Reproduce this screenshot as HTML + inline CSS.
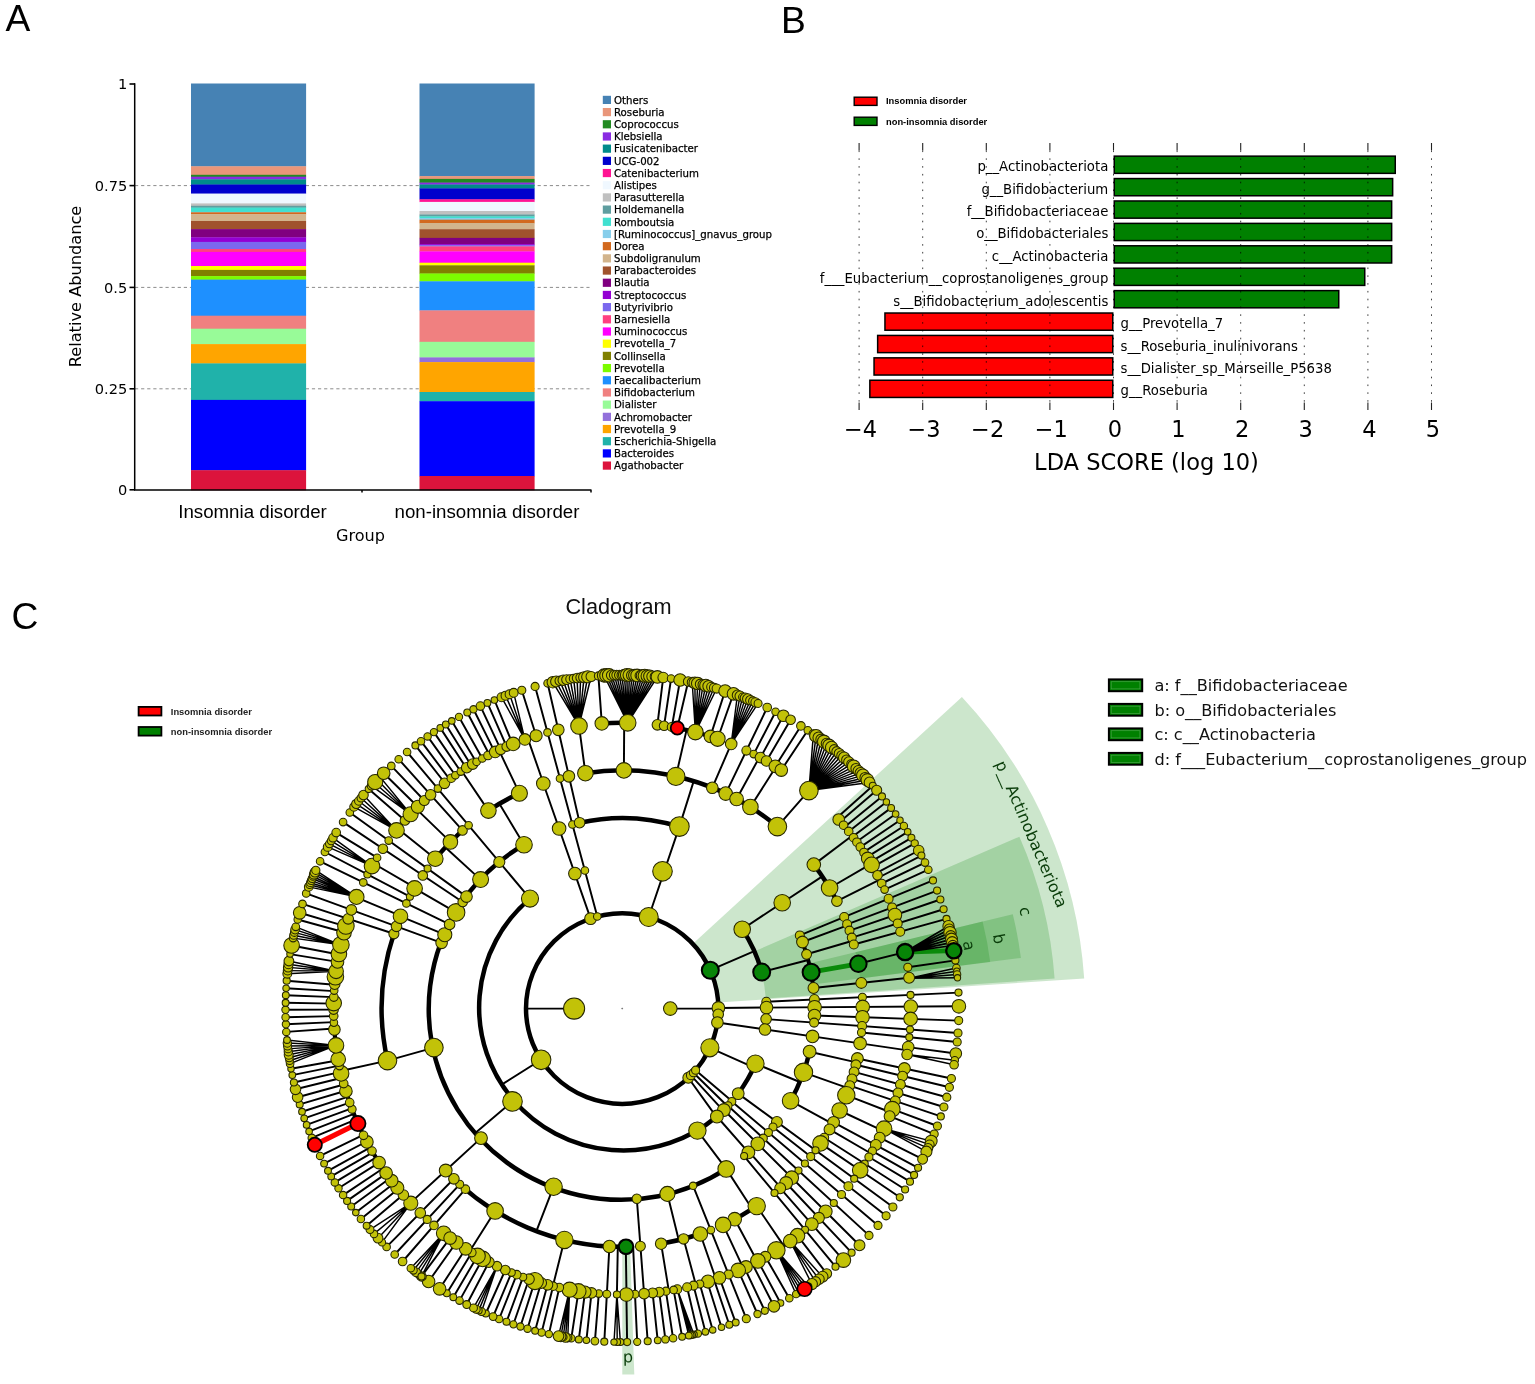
<!DOCTYPE html>
<html lang="en"><head><meta charset="utf-8"><title>Figure</title>
<style>html,body{margin:0;padding:0;background:#fff;overflow:hidden}svg{display:block}text{white-space:pre}</style></head><body>
<svg width="1535" height="1384" viewBox="0 0 1535 1384">
<rect width="1535" height="1384" fill="#fff"/>
<g id="panelA"><line x1="135" y1="185.6" x2="589.5" y2="185.6" stroke="#8c8c8c" stroke-width="1" stroke-dasharray="3.2 2.9"/>
<line x1="135" y1="287.4" x2="589.5" y2="287.4" stroke="#8c8c8c" stroke-width="1" stroke-dasharray="3.2 2.9"/>
<line x1="135" y1="388.8" x2="589.5" y2="388.8" stroke="#8c8c8c" stroke-width="1" stroke-dasharray="3.2 2.9"/>
<rect x="191.0" y="83.50" width="115.10" height="83.10" fill="#4682B4"/>
<rect x="191.0" y="166.30" width="115.10" height="8.80" fill="#E9967A"/>
<rect x="191.0" y="174.80" width="115.10" height="2.20" fill="#228B22"/>
<rect x="191.0" y="176.70" width="115.10" height="2.90" fill="#8A2BE2"/>
<rect x="191.0" y="179.30" width="115.10" height="5.50" fill="#008B8B"/>
<rect x="191.0" y="184.50" width="115.10" height="9.40" fill="#0000CD"/>
<rect x="191.0" y="193.60" width="115.10" height="10.10" fill="#F0F8FF"/>
<rect x="191.0" y="203.40" width="115.10" height="2.70" fill="#C0C0C0"/>
<rect x="191.0" y="205.80" width="115.10" height="2.10" fill="#5F9EA0"/>
<rect x="191.0" y="207.60" width="115.10" height="4.60" fill="#40E0D0"/>
<rect x="191.0" y="211.90" width="115.10" height="0.70" fill="#87CEEB"/>
<rect x="191.0" y="212.30" width="115.10" height="2.10" fill="#D2691E"/>
<rect x="191.0" y="214.10" width="115.10" height="7.20" fill="#D2B48C"/>
<rect x="191.0" y="221.00" width="115.10" height="8.40" fill="#A0522D"/>
<rect x="191.0" y="229.10" width="115.10" height="8.50" fill="#800080"/>
<rect x="191.0" y="237.30" width="115.10" height="4.90" fill="#9400D3"/>
<rect x="191.0" y="241.90" width="115.10" height="7.40" fill="#7B68EE"/>
<rect x="191.0" y="249.00" width="115.10" height="3.20" fill="#FF4081"/>
<rect x="191.0" y="251.90" width="115.10" height="14.40" fill="#FF00FF"/>
<rect x="191.0" y="266.00" width="115.10" height="4.20" fill="#FFFF00"/>
<rect x="191.0" y="269.90" width="115.10" height="6.50" fill="#808000"/>
<rect x="191.0" y="276.10" width="115.10" height="3.80" fill="#7CFC00"/>
<rect x="191.0" y="279.60" width="115.10" height="36.40" fill="#1E90FF"/>
<rect x="191.0" y="315.70" width="115.10" height="13.30" fill="#F08080"/>
<rect x="191.0" y="328.70" width="115.10" height="15.70" fill="#98FB98"/>
<rect x="191.0" y="344.10" width="115.10" height="19.60" fill="#FFA500"/>
<rect x="191.0" y="363.40" width="115.10" height="36.80" fill="#20B2AA"/>
<rect x="191.0" y="399.90" width="115.10" height="70.60" fill="#0000FF"/>
<rect x="191.0" y="470.20" width="115.10" height="20.10" fill="#DC143C"/>
<rect x="419.5" y="83.50" width="115.10" height="92.90" fill="#4682B4"/>
<rect x="419.5" y="176.10" width="115.10" height="3.10" fill="#E9967A"/>
<rect x="419.5" y="178.90" width="115.10" height="4.00" fill="#228B22"/>
<rect x="419.5" y="182.60" width="115.10" height="2.20" fill="#8A2BE2"/>
<rect x="419.5" y="184.50" width="115.10" height="4.20" fill="#008B8B"/>
<rect x="419.5" y="188.40" width="115.10" height="11.20" fill="#0000CD"/>
<rect x="419.5" y="199.30" width="115.10" height="2.90" fill="#FF1493"/>
<rect x="419.5" y="201.90" width="115.10" height="9.40" fill="#F0F8FF"/>
<rect x="419.5" y="211.00" width="115.10" height="3.80" fill="#C0C0C0"/>
<rect x="419.5" y="214.50" width="115.10" height="2.20" fill="#5F9EA0"/>
<rect x="419.5" y="216.40" width="115.10" height="1.90" fill="#40E0D0"/>
<rect x="419.5" y="218.00" width="115.10" height="2.00" fill="#87CEEB"/>
<rect x="419.5" y="219.70" width="115.10" height="3.60" fill="#D2691E"/>
<rect x="419.5" y="223.00" width="115.10" height="6.50" fill="#D2B48C"/>
<rect x="419.5" y="229.20" width="115.10" height="9.00" fill="#A0522D"/>
<rect x="419.5" y="237.90" width="115.10" height="6.50" fill="#800080"/>
<rect x="419.5" y="244.10" width="115.10" height="1.40" fill="#9400D3"/>
<rect x="419.5" y="245.20" width="115.10" height="1.50" fill="#7B68EE"/>
<rect x="419.5" y="246.40" width="115.10" height="5.30" fill="#FF4081"/>
<rect x="419.5" y="251.40" width="115.10" height="11.60" fill="#FF00FF"/>
<rect x="419.5" y="262.70" width="115.10" height="2.90" fill="#FFFF00"/>
<rect x="419.5" y="265.30" width="115.10" height="8.50" fill="#808000"/>
<rect x="419.5" y="273.50" width="115.10" height="8.10" fill="#7CFC00"/>
<rect x="419.5" y="281.30" width="115.10" height="29.40" fill="#1E90FF"/>
<rect x="419.5" y="310.40" width="115.10" height="31.70" fill="#F08080"/>
<rect x="419.5" y="341.80" width="115.10" height="15.90" fill="#98FB98"/>
<rect x="419.5" y="357.40" width="115.10" height="5.00" fill="#9370DB"/>
<rect x="419.5" y="362.10" width="115.10" height="30.20" fill="#FFA500"/>
<rect x="419.5" y="392.00" width="115.10" height="9.50" fill="#20B2AA"/>
<rect x="419.5" y="401.20" width="115.10" height="75.10" fill="#0000FF"/>
<rect x="419.5" y="476.00" width="115.10" height="14.30" fill="#DC143C"/>
<path d="M134.7 83.3V490.6M134 490H591.5M362 490v2.5M591 490v2.5" stroke="#000" stroke-width="1.5" fill="none"/>
<line x1="129.5" y1="84" x2="135" y2="84" stroke="#000" stroke-width="1.6"/>
<text x="127.3" y="89.3" text-anchor="end" font-family="'DejaVu Sans','Liberation Sans',sans-serif" font-size="14.6">1</text>
<line x1="129.5" y1="185.6" x2="135" y2="185.6" stroke="#000" stroke-width="1.6"/>
<text x="127.3" y="190.9" text-anchor="end" font-family="'DejaVu Sans','Liberation Sans',sans-serif" font-size="14.6">0.75</text>
<line x1="129.5" y1="287.4" x2="135" y2="287.4" stroke="#000" stroke-width="1.6"/>
<text x="127.3" y="292.7" text-anchor="end" font-family="'DejaVu Sans','Liberation Sans',sans-serif" font-size="14.6">0.5</text>
<line x1="129.5" y1="388.8" x2="135" y2="388.8" stroke="#000" stroke-width="1.6"/>
<text x="127.3" y="394.1" text-anchor="end" font-family="'DejaVu Sans','Liberation Sans',sans-serif" font-size="14.6">0.25</text>
<line x1="129.5" y1="489.8" x2="135" y2="489.8" stroke="#000" stroke-width="1.6"/>
<text x="127.3" y="495.1" text-anchor="end" font-family="'DejaVu Sans','Liberation Sans',sans-serif" font-size="14.6">0</text>
<text transform="translate(80.5 286.5) rotate(-90)" text-anchor="middle" font-family="'DejaVu Sans','Liberation Sans',sans-serif" font-size="16.2">Relative Abundance</text>
<text x="252.5" y="517.5" text-anchor="middle" font-family="'Liberation Sans','DejaVu Sans',sans-serif" font-size="18.7">Insomnia disorder</text>
<text x="487" y="517.5" text-anchor="middle" font-family="'Liberation Sans','DejaVu Sans',sans-serif" font-size="18.7">non-insomnia disorder</text>
<text x="360.5" y="540.5" text-anchor="middle" font-family="'DejaVu Sans','Liberation Sans',sans-serif" font-size="16.1">Group</text>
<rect x="602.8" y="95.80" width="8.2" height="8.2" fill="#4682B4"/>
<text x="614" y="103.60" font-family="'DejaVu Sans','Liberation Sans',sans-serif" font-size="10.2" stroke="#000" stroke-width="0.25">Others</text>
<rect x="602.8" y="107.99" width="8.2" height="8.2" fill="#E9967A"/>
<text x="614" y="115.79" font-family="'DejaVu Sans','Liberation Sans',sans-serif" font-size="10.2" stroke="#000" stroke-width="0.25">Roseburia</text>
<rect x="602.8" y="120.18" width="8.2" height="8.2" fill="#228B22"/>
<text x="614" y="127.98" font-family="'DejaVu Sans','Liberation Sans',sans-serif" font-size="10.2" stroke="#000" stroke-width="0.25">Coprococcus</text>
<rect x="602.8" y="132.37" width="8.2" height="8.2" fill="#8A2BE2"/>
<text x="614" y="140.17" font-family="'DejaVu Sans','Liberation Sans',sans-serif" font-size="10.2" stroke="#000" stroke-width="0.25">Klebsiella</text>
<rect x="602.8" y="144.56" width="8.2" height="8.2" fill="#008B8B"/>
<text x="614" y="152.36" font-family="'DejaVu Sans','Liberation Sans',sans-serif" font-size="10.2" stroke="#000" stroke-width="0.25">Fusicatenibacter</text>
<rect x="602.8" y="156.75" width="8.2" height="8.2" fill="#0000CD"/>
<text x="614" y="164.55" font-family="'DejaVu Sans','Liberation Sans',sans-serif" font-size="10.2" stroke="#000" stroke-width="0.25">UCG-002</text>
<rect x="602.8" y="168.94" width="8.2" height="8.2" fill="#FF1493"/>
<text x="614" y="176.74" font-family="'DejaVu Sans','Liberation Sans',sans-serif" font-size="10.2" stroke="#000" stroke-width="0.25">Catenibacterium</text>
<rect x="602.8" y="181.13" width="8.2" height="8.2" fill="#F0F8FF"/>
<text x="614" y="188.93" font-family="'DejaVu Sans','Liberation Sans',sans-serif" font-size="10.2" stroke="#000" stroke-width="0.25">Alistipes</text>
<rect x="602.8" y="193.32" width="8.2" height="8.2" fill="#C0C0C0"/>
<text x="614" y="201.12" font-family="'DejaVu Sans','Liberation Sans',sans-serif" font-size="10.2" stroke="#000" stroke-width="0.25">Parasutterella</text>
<rect x="602.8" y="205.51" width="8.2" height="8.2" fill="#5F9EA0"/>
<text x="614" y="213.31" font-family="'DejaVu Sans','Liberation Sans',sans-serif" font-size="10.2" stroke="#000" stroke-width="0.25">Holdemanella</text>
<rect x="602.8" y="217.70" width="8.2" height="8.2" fill="#40E0D0"/>
<text x="614" y="225.50" font-family="'DejaVu Sans','Liberation Sans',sans-serif" font-size="10.2" stroke="#000" stroke-width="0.25">Romboutsia</text>
<rect x="602.8" y="229.89" width="8.2" height="8.2" fill="#87CEEB"/>
<text x="614" y="237.69" font-family="'DejaVu Sans','Liberation Sans',sans-serif" font-size="10.2" stroke="#000" stroke-width="0.25">[Ruminococcus]_gnavus_group</text>
<rect x="602.8" y="242.08" width="8.2" height="8.2" fill="#D2691E"/>
<text x="614" y="249.88" font-family="'DejaVu Sans','Liberation Sans',sans-serif" font-size="10.2" stroke="#000" stroke-width="0.25">Dorea</text>
<rect x="602.8" y="254.27" width="8.2" height="8.2" fill="#D2B48C"/>
<text x="614" y="262.07" font-family="'DejaVu Sans','Liberation Sans',sans-serif" font-size="10.2" stroke="#000" stroke-width="0.25">Subdoligranulum</text>
<rect x="602.8" y="266.46" width="8.2" height="8.2" fill="#A0522D"/>
<text x="614" y="274.26" font-family="'DejaVu Sans','Liberation Sans',sans-serif" font-size="10.2" stroke="#000" stroke-width="0.25">Parabacteroides</text>
<rect x="602.8" y="278.65" width="8.2" height="8.2" fill="#800080"/>
<text x="614" y="286.45" font-family="'DejaVu Sans','Liberation Sans',sans-serif" font-size="10.2" stroke="#000" stroke-width="0.25">Blautia</text>
<rect x="602.8" y="290.84" width="8.2" height="8.2" fill="#9400D3"/>
<text x="614" y="298.64" font-family="'DejaVu Sans','Liberation Sans',sans-serif" font-size="10.2" stroke="#000" stroke-width="0.25">Streptococcus</text>
<rect x="602.8" y="303.03" width="8.2" height="8.2" fill="#7B68EE"/>
<text x="614" y="310.83" font-family="'DejaVu Sans','Liberation Sans',sans-serif" font-size="10.2" stroke="#000" stroke-width="0.25">Butyrivibrio</text>
<rect x="602.8" y="315.22" width="8.2" height="8.2" fill="#FF4081"/>
<text x="614" y="323.02" font-family="'DejaVu Sans','Liberation Sans',sans-serif" font-size="10.2" stroke="#000" stroke-width="0.25">Barnesiella</text>
<rect x="602.8" y="327.41" width="8.2" height="8.2" fill="#FF00FF"/>
<text x="614" y="335.21" font-family="'DejaVu Sans','Liberation Sans',sans-serif" font-size="10.2" stroke="#000" stroke-width="0.25">Ruminococcus</text>
<rect x="602.8" y="339.60" width="8.2" height="8.2" fill="#FFFF00"/>
<text x="614" y="347.40" font-family="'DejaVu Sans','Liberation Sans',sans-serif" font-size="10.2" stroke="#000" stroke-width="0.25">Prevotella_7</text>
<rect x="602.8" y="351.79" width="8.2" height="8.2" fill="#808000"/>
<text x="614" y="359.59" font-family="'DejaVu Sans','Liberation Sans',sans-serif" font-size="10.2" stroke="#000" stroke-width="0.25">Collinsella</text>
<rect x="602.8" y="363.98" width="8.2" height="8.2" fill="#7CFC00"/>
<text x="614" y="371.78" font-family="'DejaVu Sans','Liberation Sans',sans-serif" font-size="10.2" stroke="#000" stroke-width="0.25">Prevotella</text>
<rect x="602.8" y="376.17" width="8.2" height="8.2" fill="#1E90FF"/>
<text x="614" y="383.97" font-family="'DejaVu Sans','Liberation Sans',sans-serif" font-size="10.2" stroke="#000" stroke-width="0.25">Faecalibacterium</text>
<rect x="602.8" y="388.36" width="8.2" height="8.2" fill="#F08080"/>
<text x="614" y="396.16" font-family="'DejaVu Sans','Liberation Sans',sans-serif" font-size="10.2" stroke="#000" stroke-width="0.25">Bifidobacterium</text>
<rect x="602.8" y="400.55" width="8.2" height="8.2" fill="#98FB98"/>
<text x="614" y="408.35" font-family="'DejaVu Sans','Liberation Sans',sans-serif" font-size="10.2" stroke="#000" stroke-width="0.25">Dialister</text>
<rect x="602.8" y="412.74" width="8.2" height="8.2" fill="#9370DB"/>
<text x="614" y="420.54" font-family="'DejaVu Sans','Liberation Sans',sans-serif" font-size="10.2" stroke="#000" stroke-width="0.25">Achromobacter</text>
<rect x="602.8" y="424.93" width="8.2" height="8.2" fill="#FFA500"/>
<text x="614" y="432.73" font-family="'DejaVu Sans','Liberation Sans',sans-serif" font-size="10.2" stroke="#000" stroke-width="0.25">Prevotella_9</text>
<rect x="602.8" y="437.12" width="8.2" height="8.2" fill="#20B2AA"/>
<text x="614" y="444.92" font-family="'DejaVu Sans','Liberation Sans',sans-serif" font-size="10.2" stroke="#000" stroke-width="0.25">Escherichia-Shigella</text>
<rect x="602.8" y="449.31" width="8.2" height="8.2" fill="#0000FF"/>
<text x="614" y="457.11" font-family="'DejaVu Sans','Liberation Sans',sans-serif" font-size="10.2" stroke="#000" stroke-width="0.25">Bacteroides</text>
<rect x="602.8" y="461.50" width="8.2" height="8.2" fill="#DC143C"/>
<text x="614" y="469.30" font-family="'DejaVu Sans','Liberation Sans',sans-serif" font-size="10.2" stroke="#000" stroke-width="0.25">Agathobacter</text></g>
<g id="panelB"><rect x="1114.25" y="156.15" width="281.00" height="17.20" fill="#008000" stroke="#000" stroke-width="1.5"/>
<rect x="1114.25" y="178.56" width="278.40" height="17.20" fill="#008000" stroke="#000" stroke-width="1.5"/>
<rect x="1114.25" y="200.97" width="277.40" height="17.20" fill="#008000" stroke="#000" stroke-width="1.5"/>
<rect x="1114.25" y="223.38" width="277.40" height="17.20" fill="#008000" stroke="#000" stroke-width="1.5"/>
<rect x="1114.25" y="245.79" width="277.40" height="17.20" fill="#008000" stroke="#000" stroke-width="1.5"/>
<rect x="1114.25" y="268.20" width="250.50" height="17.20" fill="#008000" stroke="#000" stroke-width="1.5"/>
<rect x="1114.25" y="290.61" width="224.50" height="17.20" fill="#008000" stroke="#000" stroke-width="1.5"/>
<rect x="884.95" y="313.02" width="227.80" height="17.20" fill="#FF0000" stroke="#000" stroke-width="1.5"/>
<rect x="877.65" y="335.43" width="235.10" height="17.20" fill="#FF0000" stroke="#000" stroke-width="1.5"/>
<rect x="874.05" y="357.84" width="238.70" height="17.20" fill="#FF0000" stroke="#000" stroke-width="1.5"/>
<rect x="869.85" y="380.25" width="242.90" height="17.20" fill="#FF0000" stroke="#000" stroke-width="1.5"/>
<line x1="859.10" y1="150.5" x2="859.10" y2="402" stroke="#000" stroke-opacity="0.75" stroke-width="1" stroke-dasharray="1.6 6.2"/>
<line x1="859.10" y1="143" x2="859.10" y2="150.5" stroke="#222" stroke-width="1.1"/>
<line x1="859.10" y1="402.5" x2="859.10" y2="410" stroke="#222" stroke-width="1.1"/>
<text x="860.50" y="437.2" text-anchor="middle" font-family="'DejaVu Sans','Liberation Sans',sans-serif" font-size="22.5">−4</text>
<line x1="922.70" y1="150.5" x2="922.70" y2="402" stroke="#000" stroke-opacity="0.75" stroke-width="1" stroke-dasharray="1.6 6.2"/>
<line x1="922.70" y1="143" x2="922.70" y2="150.5" stroke="#222" stroke-width="1.1"/>
<line x1="922.70" y1="402.5" x2="922.70" y2="410" stroke="#222" stroke-width="1.1"/>
<text x="924.10" y="437.2" text-anchor="middle" font-family="'DejaVu Sans','Liberation Sans',sans-serif" font-size="22.5">−3</text>
<line x1="986.30" y1="150.5" x2="986.30" y2="402" stroke="#000" stroke-opacity="0.75" stroke-width="1" stroke-dasharray="1.6 6.2"/>
<line x1="986.30" y1="143" x2="986.30" y2="150.5" stroke="#222" stroke-width="1.1"/>
<line x1="986.30" y1="402.5" x2="986.30" y2="410" stroke="#222" stroke-width="1.1"/>
<text x="987.70" y="437.2" text-anchor="middle" font-family="'DejaVu Sans','Liberation Sans',sans-serif" font-size="22.5">−2</text>
<line x1="1049.90" y1="150.5" x2="1049.90" y2="402" stroke="#000" stroke-opacity="0.75" stroke-width="1" stroke-dasharray="1.6 6.2"/>
<line x1="1049.90" y1="143" x2="1049.90" y2="150.5" stroke="#222" stroke-width="1.1"/>
<line x1="1049.90" y1="402.5" x2="1049.90" y2="410" stroke="#222" stroke-width="1.1"/>
<text x="1051.30" y="437.2" text-anchor="middle" font-family="'DejaVu Sans','Liberation Sans',sans-serif" font-size="22.5">−1</text>
<line x1="1113.50" y1="150.5" x2="1113.50" y2="402" stroke="#000" stroke-opacity="0.75" stroke-width="1" stroke-dasharray="1.6 6.2"/>
<line x1="1113.50" y1="143" x2="1113.50" y2="150.5" stroke="#222" stroke-width="1.1"/>
<line x1="1113.50" y1="402.5" x2="1113.50" y2="410" stroke="#222" stroke-width="1.1"/>
<text x="1114.90" y="437.2" text-anchor="middle" font-family="'DejaVu Sans','Liberation Sans',sans-serif" font-size="22.5">0</text>
<line x1="1177.10" y1="150.5" x2="1177.10" y2="402" stroke="#000" stroke-opacity="0.75" stroke-width="1" stroke-dasharray="1.6 6.2"/>
<line x1="1177.10" y1="143" x2="1177.10" y2="150.5" stroke="#222" stroke-width="1.1"/>
<line x1="1177.10" y1="402.5" x2="1177.10" y2="410" stroke="#222" stroke-width="1.1"/>
<text x="1178.50" y="437.2" text-anchor="middle" font-family="'DejaVu Sans','Liberation Sans',sans-serif" font-size="22.5">1</text>
<line x1="1240.70" y1="150.5" x2="1240.70" y2="402" stroke="#000" stroke-opacity="0.75" stroke-width="1" stroke-dasharray="1.6 6.2"/>
<line x1="1240.70" y1="143" x2="1240.70" y2="150.5" stroke="#222" stroke-width="1.1"/>
<line x1="1240.70" y1="402.5" x2="1240.70" y2="410" stroke="#222" stroke-width="1.1"/>
<text x="1242.10" y="437.2" text-anchor="middle" font-family="'DejaVu Sans','Liberation Sans',sans-serif" font-size="22.5">2</text>
<line x1="1304.30" y1="150.5" x2="1304.30" y2="402" stroke="#000" stroke-opacity="0.75" stroke-width="1" stroke-dasharray="1.6 6.2"/>
<line x1="1304.30" y1="143" x2="1304.30" y2="150.5" stroke="#222" stroke-width="1.1"/>
<line x1="1304.30" y1="402.5" x2="1304.30" y2="410" stroke="#222" stroke-width="1.1"/>
<text x="1305.70" y="437.2" text-anchor="middle" font-family="'DejaVu Sans','Liberation Sans',sans-serif" font-size="22.5">3</text>
<line x1="1367.90" y1="150.5" x2="1367.90" y2="402" stroke="#000" stroke-opacity="0.75" stroke-width="1" stroke-dasharray="1.6 6.2"/>
<line x1="1367.90" y1="143" x2="1367.90" y2="150.5" stroke="#222" stroke-width="1.1"/>
<line x1="1367.90" y1="402.5" x2="1367.90" y2="410" stroke="#222" stroke-width="1.1"/>
<text x="1369.30" y="437.2" text-anchor="middle" font-family="'DejaVu Sans','Liberation Sans',sans-serif" font-size="22.5">4</text>
<line x1="1431.50" y1="150.5" x2="1431.50" y2="402" stroke="#000" stroke-opacity="0.75" stroke-width="1" stroke-dasharray="1.6 6.2"/>
<line x1="1431.50" y1="143" x2="1431.50" y2="150.5" stroke="#222" stroke-width="1.1"/>
<line x1="1431.50" y1="402.5" x2="1431.50" y2="410" stroke="#222" stroke-width="1.1"/>
<text x="1432.90" y="437.2" text-anchor="middle" font-family="'DejaVu Sans','Liberation Sans',sans-serif" font-size="22.5">5</text>
<text x="1108.3" y="171.25" text-anchor="end" font-family="'DejaVu Sans','Liberation Sans',sans-serif" font-size="13.25">p__Actinobacteriota</text>
<text x="1108.3" y="193.66" text-anchor="end" font-family="'DejaVu Sans','Liberation Sans',sans-serif" font-size="13.25">g__Bifidobacterium</text>
<text x="1108.3" y="216.07" text-anchor="end" font-family="'DejaVu Sans','Liberation Sans',sans-serif" font-size="13.25">f__Bifidobacteriaceae</text>
<text x="1108.3" y="238.48" text-anchor="end" font-family="'DejaVu Sans','Liberation Sans',sans-serif" font-size="13.25">o__Bifidobacteriales</text>
<text x="1108.3" y="260.89" text-anchor="end" font-family="'DejaVu Sans','Liberation Sans',sans-serif" font-size="13.25">c__Actinobacteria</text>
<text x="1108.3" y="283.30" text-anchor="end" font-family="'DejaVu Sans','Liberation Sans',sans-serif" font-size="13.25">f___Eubacterium__coprostanoligenes_group</text>
<text x="1108.3" y="305.71" text-anchor="end" font-family="'DejaVu Sans','Liberation Sans',sans-serif" font-size="13.25">s__Bifidobacterium_adolescentis</text>
<text x="1120.5" y="328.12" font-family="'DejaVu Sans','Liberation Sans',sans-serif" font-size="13.25">g__Prevotella_7</text>
<text x="1120.5" y="350.53" font-family="'DejaVu Sans','Liberation Sans',sans-serif" font-size="13.25">s__Roseburia_inulinivorans</text>
<text x="1120.5" y="372.94" font-family="'DejaVu Sans','Liberation Sans',sans-serif" font-size="13.25">s__Dialister_sp_Marseille_P5638</text>
<text x="1120.5" y="395.35" font-family="'DejaVu Sans','Liberation Sans',sans-serif" font-size="13.25">g__Roseburia</text>
<text x="1146.5" y="469.8" text-anchor="middle" font-family="'DejaVu Sans','Liberation Sans',sans-serif" font-size="22.56">LDA SCORE (log 10)</text>
<rect x="854.2" y="97.2" width="22.8" height="8.2" fill="#FF0000" stroke="#000" stroke-width="1.4"/>
<rect x="854.2" y="117.2" width="22.8" height="8.2" fill="#008000" stroke="#000" stroke-width="1.4"/>
<text x="886" y="104.2" font-family="'Liberation Sans','DejaVu Sans',sans-serif" font-weight="bold" font-size="9.35">Insomnia disorder</text>
<text x="886" y="125.1" font-family="'Liberation Sans','DejaVu Sans',sans-serif" font-weight="bold" font-size="9.35">non-insomnia disorder</text></g>
<g id="panelC"><path d="M692.6 944.0L961.9 697.0A463.0 458.7 0 0 1 1084.2 978.6L718.0 1002.4A96.0 95.1 0 0 0 692.6 944.0Z" fill="#008000" fill-opacity="0.2"/>
<path d="M754.2 951.5L1019.4 836.7A433.5 429.4 0 0 1 1054.6 978.6L765.8 998.6A144.0 142.7 0 0 0 754.2 951.5Z" fill="#008000" fill-opacity="0.2"/>
<path d="M808.7 963.6L1012.8 914.3A402.0 398.2 0 0 1 1020.9 958.0L812.6 984.4A192.0 190.2 0 0 0 808.7 963.6Z" fill="#008000" fill-opacity="0.2"/>
<path d="M855.4 952.3L982.6 921.6A371.0 367.5 0 0 1 990.2 961.9L860.3 978.4A240.0 237.8 0 0 0 855.4 952.3Z" fill="#008000" fill-opacity="0.2"/>
<path d="M630.0 1244.2L634.3 1374.4A369.5 366.0 0 0 1 622.3 1374.6L622.3 1244.4A238.0 235.8 0 0 0 630.0 1244.2Z" fill="#008000" fill-opacity="0.2"/><ellipse cx="622.2" cy="1008.6" rx="96.20" ry="95.30" fill="none" stroke="#000" stroke-width="4.5"/>
<path d="M742.1 929.1A144.30 142.95 0 0 1 761.7 972.1" fill="none" stroke="#000" stroke-width="4.5"/>
<path d="M799.8 935.4A192.40 190.60 0 0 1 813.4 987.7" fill="none" stroke="#000" stroke-width="4.0"/>
<path d="M755.4 1063.7A144.30 142.95 0 0 1 737.8 1094.1" fill="none" stroke="#000" stroke-width="4.5"/>
<path d="M809.6 1051.7A192.40 190.60 0 0 1 790.6 1100.8" fill="none" stroke="#000" stroke-width="4.5"/>
<path d="M857.4 1058.1A240.50 238.25 0 0 1 854.1 1071.9" fill="none" stroke="#000" stroke-width="4.2"/>
<path d="M852.1 1078.7A240.50 238.25 0 0 1 846.3 1095.1" fill="none" stroke="#000" stroke-width="4.2"/>
<path d="M839.6 1110.5A240.50 238.25 0 0 1 820.8 1143.0" fill="none" stroke="#000" stroke-width="4.2"/>
<path d="M773.0 1127.0A192.40 190.60 0 0 1 768.3 1132.6" fill="none" stroke="#000" stroke-width="3.5"/>
<path d="M785.9 1183.1A240.50 238.25 0 0 1 780.0 1188.4" fill="none" stroke="#000" stroke-width="4.2"/>
<path d="M756.7 1206.1A240.50 238.25 0 0 1 723.1 1224.9" fill="none" stroke="#000" stroke-width="4.5"/>
<path d="M797.5 1235.7A288.60 285.90 0 0 1 766.1 1256.4" fill="none" stroke="#000" stroke-width="4.2"/>
<path d="M746.0 1266.9A288.60 285.90 0 0 1 738.7 1270.2" fill="none" stroke="#000" stroke-width="4.2"/>
<path d="M700.3 1234.0A240.50 238.25 0 0 1 661.1 1243.7" fill="none" stroke="#000" stroke-width="4.5"/>
<path d="M719.5 1277.8A288.60 285.90 0 0 1 708.0 1281.6" fill="none" stroke="#000" stroke-width="4.2"/>
<path d="M699.8 1284.0A288.60 285.90 0 0 1 687.1 1287.2" fill="none" stroke="#000" stroke-width="4.2"/>
<path d="M677.3 1289.2A288.60 285.90 0 0 1 652.4 1292.9" fill="none" stroke="#000" stroke-width="4.2"/>
<path d="M626.0 1246.8A240.50 238.25 0 0 1 445.5 1170.2" fill="none" stroke="#000" stroke-width="4.5"/>
<path d="M598.8 1293.6A288.60 285.90 0 0 1 508.5 1271.4" fill="none" stroke="#000" stroke-width="4.2"/>
<path d="M505.3 1270.0A288.60 285.90 0 0 1 443.7 1233.3" fill="none" stroke="#000" stroke-width="4.2"/>
<path d="M387.5 1060.6A240.50 238.25 0 0 1 394.0 933.4" fill="none" stroke="#000" stroke-width="4.5"/>
<path d="M403.4 1195.0A288.60 285.90 0 0 1 345.9 926.0" fill="none" stroke="#000" stroke-width="4.2"/>
<path d="M406.4 903.4A240.50 238.25 0 0 1 409.9 896.7" fill="none" stroke="#000" stroke-width="4.2"/>
<path d="M372.0 866.1A288.60 285.90 0 0 1 376.9 857.9" fill="none" stroke="#000" stroke-width="4.2"/>
<path d="M435.3 858.7A240.50 238.25 0 0 1 462.5 830.4" fill="none" stroke="#000" stroke-width="4.5"/>
<path d="M405.1 820.3A288.60 285.90 0 0 1 423.9 800.9" fill="none" stroke="#000" stroke-width="4.2"/>
<path d="M488.4 810.6A240.50 238.25 0 0 1 519.4 793.2" fill="none" stroke="#000" stroke-width="4.5"/>
<path d="M444.5 783.3A288.60 285.90 0 0 1 513.6 743.7" fill="none" stroke="#000" stroke-width="4.2"/>
<path d="M524.9 739.4A288.60 285.90 0 0 1 536.4 735.6" fill="none" stroke="#000" stroke-width="4.2"/>
<path d="M579.9 822.7A192.40 190.60 0 0 1 679.4 826.6" fill="none" stroke="#000" stroke-width="4.5"/>
<path d="M585.4 773.2A240.50 238.25 0 0 1 777.4 826.6" fill="none" stroke="#000" stroke-width="4.5"/>
<path d="M601.6 723.4A288.60 285.90 0 0 1 627.7 722.8" fill="none" stroke="#000" stroke-width="4.5"/>
<path d="M656.9 724.8A288.60 285.90 0 0 1 718.1 738.9" fill="none" stroke="#000" stroke-width="4.2"/>
<path d="M767.4 761.5A288.60 285.90 0 0 1 781.9 770.5" fill="none" stroke="#000" stroke-width="4.2"/>
<path d="M813.8 864.6A240.50 238.25 0 0 1 836.9 901.2" fill="none" stroke="#000" stroke-width="4.5"/>
<path d="M838.7 819.5A288.60 285.90 0 0 1 864.0 852.5" fill="none" stroke="#000" stroke-width="4.2"/>
<path d="M867.7 858.4A288.60 285.90 0 0 1 877.5 875.3" fill="none" stroke="#000" stroke-width="4.2"/>
<path d="M716.9 1116.5A144.30 142.95 0 1 1 530.0 898.6" fill="none" stroke="#000" stroke-width="4.5"/>
<path d="M726.2 1168.9A192.40 190.60 0 1 1 524.0 844.7" fill="none" stroke="#000" stroke-width="4.5"/>
<path d="M574.1 1008.6L526.0 1008.6M670.3 1008.6L718.4 1008.6M710.3 970.2L754.3 951.1M761.7 972.1L808.2 960.0M799.8 935.4L933.0 880.4M802.5 942.0L847.5 925.4M847.1 924.3L937.1 890.6M849.5 930.6L940.4 899.5M806.6 954.3L852.7 940.8M851.8 937.6L943.6 909.2M853.8 944.5L946.5 918.9M858.4 963.8L905.1 952.1M907.8 967.3L955.4 960.4M813.5 988.0L909.1 977.7M766.3 1001.7L958.5 992.6M718.4 1007.9L958.9 1006.3M814.5 1015.5L958.7 1020.6M766.1 1019.1L958.0 1033.0M861.5 1032.5L957.2 1042.0M717.4 1022.5L860.1 1043.4M860.1 1043.4L907.7 1050.4M908.2 1047.1L955.8 1053.5M709.9 1047.8L753.7 1067.4M755.4 1063.7L799.8 1082.0M809.6 1051.7L856.5 1062.4M857.4 1058.5L951.4 1078.5M855.9 1064.8L949.4 1087.3M854.1 1071.9L946.8 1097.2M803.5 1072.3L848.8 1088.3M852.0 1078.9L943.9 1107.0M849.8 1085.6L940.8 1116.4M846.3 1095.2L891.1 1112.5M892.3 1109.2L937.4 1126.0M889.6 1116.2L934.2 1134.1M790.6 1100.8L832.7 1123.9M839.6 1110.5L883.1 1130.9M879.7 1137.7L922.6 1159.2M833.6 1122.3L918.1 1167.8M829.5 1129.4L871.0 1153.5M872.4 1151.1L914.1 1174.9M868.9 1157.0L910.0 1181.7M824.2 1137.8L905.1 1189.5M820.5 1143.4L899.8 1197.3M738.2 1093.6L892.9 1207.0M695.6 1070.2L732.1 1101.2M693.4 1072.7L727.6 1106.3M690.9 1075.3L723.3 1110.6M688.3 1077.8L716.4 1116.9M773.0 1127.0L886.1 1215.8M731.8 1101.5L878.0 1225.4M728.0 1105.8L869.0 1235.4M723.9 1110.0L859.5 1245.3M716.9 1116.5L748.4 1152.4M749.1 1151.9L780.8 1187.7M786.1 1183.0L851.6 1252.7M780.2 1188.2L843.4 1260.1M744.1 1156.1L835.5 1266.7M697.4 1130.6L726.2 1168.9M726.2 1168.9L752.2 1209.0M756.7 1206.1L783.6 1245.6M797.5 1235.7L826.7 1273.6M765.4 1256.8L789.3 1298.2M757.9 1260.9L780.5 1303.0M734.7 1219.2L757.2 1261.3M752.3 1263.8L774.0 1306.3M744.4 1267.6L764.8 1310.8M723.1 1224.9L743.3 1268.1M738.2 1270.4L757.5 1314.0M693.1 1185.8L746.3 1318.7M667.4 1193.9L678.8 1240.2M700.3 1234.0L715.9 1279.0M719.5 1277.8L735.7 1322.6M714.0 1279.6L729.3 1324.8M707.3 1281.8L721.5 1327.3M683.6 1238.9L695.9 1285.0M699.8 1284.0L712.7 1329.9M693.5 1285.6L705.4 1331.8M687.1 1287.2L697.9 1333.6M661.1 1243.7L668.8 1290.7M673.6 1289.9L682.1 1336.8M665.9 1291.2L673.1 1338.3M659.2 1292.1L665.4 1339.4M652.6 1292.9L657.7 1340.3M636.8 1198.7L647.7 1341.2M633.1 1246.6L635.3 1294.2M625.8 1246.8L626.5 1294.5M617.8 1246.8L616.9 1294.5M635.0 1294.2L637.2 1341.8M626.4 1294.5L627.1 1342.1M553.6 1186.7L536.4 1231.2M609.4 1246.5L604.3 1341.7M564.4 1239.9L552.9 1286.1M598.8 1293.6L594.9 1341.1M591.5 1292.9L586.4 1340.3M585.0 1292.1L578.8 1339.4M578.5 1291.2L571.3 1338.3M559.3 1287.6L548.9 1334.1M553.1 1286.2L541.6 1332.5M547.5 1284.8L535.1 1330.8M541.1 1283.0L527.5 1328.7M534.9 1281.1L520.4 1326.5M529.0 1279.2L513.4 1324.3M523.0 1277.1L506.5 1321.8M516.7 1274.7L499.1 1319.0M511.5 1272.6L493.1 1316.6M495.1 1210.9L469.7 1251.3M505.3 1270.0L485.8 1313.5M488.9 1262.2L466.7 1304.5M482.7 1258.9L459.5 1300.6M477.5 1255.9L453.3 1297.2M471.8 1252.6L446.8 1293.3M465.7 1248.8L439.6 1288.8M456.3 1242.5L428.6 1281.5M450.1 1238.1L421.5 1276.4M465.4 1189.2L402.6 1261.5M459.7 1184.3L394.7 1254.5M453.9 1178.8L386.6 1246.9M541.1 1059.8L500.5 1085.4M512.5 1101.4L475.9 1132.4M481.0 1138.1L445.7 1170.5M445.7 1170.5L410.4 1202.9M433.9 1047.6L387.5 1060.6M387.5 1060.6L340.6 1071.0M403.1 1194.7L366.6 1225.7M398.2 1188.9L360.9 1219.0M393.9 1183.4L355.8 1212.6M389.9 1178.3L351.2 1206.5M386.4 1173.4L347.1 1200.9M382.9 1168.5L343.1 1195.1M379.1 1162.6L338.5 1188.3M375.9 1157.6L334.8 1182.4M372.8 1152.4L331.2 1176.4M370.0 1147.6L328.0 1170.8M366.7 1141.5L324.1 1163.6M363.3 1134.8L320.1 1155.9M356.2 1119.4L311.8 1137.9M353.9 1113.8L309.1 1131.4M351.7 1108.3L306.6 1124.9M349.7 1102.6L304.2 1118.3M347.7 1096.9L302.0 1111.7M345.8 1090.8L299.7 1104.4M344.0 1084.5L297.6 1097.2M342.2 1077.8L295.5 1089.3M340.8 1071.9L293.9 1082.5M339.4 1065.6L292.3 1075.1M338.3 1060.2L291.0 1068.8M334.3 1028.5L286.3 1031.9M333.9 1022.1L285.9 1024.3M333.7 1016.1L285.6 1017.3M333.6 1009.6L285.5 1009.8M333.6 1003.6L285.6 1002.8M333.8 997.1L285.8 995.2M334.1 991.1L286.1 988.2M334.6 984.7L286.7 980.7M337.5 961.9L290.0 954.1M338.8 954.5L291.6 945.5M344.1 932.2L297.7 919.5M345.8 926.4L299.7 912.8M393.9 933.8L302.5 903.9M441.6 942.8L306.2 893.4M444.8 934.7L400.5 916.3M400.7 915.9L356.3 897.3M449.6 924.4L320.1 861.3M409.9 896.7L324.9 852.0M456.1 912.4L414.6 888.4M415.0 887.7L373.5 863.5M377.1 857.7L336.2 832.6M462.7 902.0L343.1 822.1M466.5 896.6L349.8 812.5M480.6 879.6L445.2 847.3M435.3 858.7L397.9 828.7M450.4 841.9L416.0 808.6M404.9 820.5L368.7 789.1M417.8 806.8L383.7 773.2M424.3 800.5L391.3 765.9M462.5 830.4L398.7 759.2M530.0 898.6L407.1 752.0M524.0 844.7L499.4 803.7M488.4 810.6L461.7 771.0M519.4 793.2L498.9 750.1M444.9 783.0L415.4 745.4M449.7 779.4L421.0 741.2M455.4 775.3L427.6 736.4M460.8 771.6L433.9 732.1M466.3 768.0L440.3 727.9M471.0 765.1L445.8 724.5M476.2 762.0L451.8 720.9M482.3 758.5L459.0 716.9M489.4 754.8L467.3 712.5M494.8 752.1L473.5 709.3M500.7 749.3L480.4 706.1M506.7 746.6L487.4 702.9M512.7 744.1L494.4 700.0M590.6 918.6L543.3 783.5M543.5 783.5L527.8 738.4M536.1 735.7L521.8 690.2M597.3 916.5L535.1 686.4M648.7 917.0L679.4 826.6M679.4 826.6L693.7 781.1M579.6 822.7L547.6 683.3M585.4 773.2L579.0 725.9M623.9 770.4L624.2 722.7M601.8 723.4L598.4 675.9M675.9 776.4L686.6 729.9M657.4 724.8L663.2 677.5M664.1 725.7L671.1 678.6M671.8 727.0L680.1 680.0M677.3 728.0L688.2 681.5M710.4 736.4L725.1 691.0M717.6 738.8L733.5 693.8M712.3 787.7L731.2 743.9M725.7 793.6L767.2 707.5M736.6 799.0L759.5 757.1M753.7 754.1L775.6 711.7M760.4 757.6L783.4 715.7M750.4 807.0L776.0 766.7M766.5 761.0L790.6 719.7M775.3 766.3L800.9 725.9M781.3 770.1L807.8 730.3M777.4 826.6L808.9 790.6M742.2 929.2L782.2 902.7M782.3 902.8L822.3 876.4M813.8 864.6L852.1 835.7M837.0 817.7L872.8 785.8M840.3 821.4L876.7 790.2M844.9 826.7L882.0 796.4M848.7 831.4L886.4 801.9M852.7 836.5L891.1 807.9M856.6 841.8L895.6 814.0M860.3 847.1L900.0 820.2M863.7 852.1L903.9 826.0M829.6 888.0L871.1 863.9M866.9 857.1L907.7 831.8M870.1 862.2L911.4 837.8M872.9 866.9L914.7 843.3M876.3 873.1L918.7 850.5M878.7 877.5L921.4 855.6M836.9 901.2L879.8 879.7M881.7 883.5L925.0 862.6M884.6 889.6L928.3 869.7" fill="none" stroke="#000" stroke-width="1.95"/>
<path d="M811.1 972.2L858.4 963.8M905.1 952.1L953.8 950.7" fill="none" stroke="#0a8a0a" stroke-width="4.8"/>
<path d="M905.1 952.1L948.5 926.2M905.1 952.1L949.3 929.4M905.1 952.1L950.0 932.6M905.1 952.1L950.8 935.8M905.1 952.1L951.5 939.1M905.1 952.1L952.2 942.3M905.1 952.1L952.8 945.5" fill="none" stroke="#000" stroke-width="1.7"/>
<path d="M909.2 978.2L956.4 968.0M909.2 978.2L956.8 971.2M909.2 978.2L957.1 974.5M909.2 978.2L957.5 977.8M907.1 1054.5L954.8 1060.2M907.1 1054.5L954.1 1064.8M884.1 1128.7L931.2 1141.1M884.1 1128.7L929.6 1144.6M884.1 1128.7L928.0 1148.2M884.1 1128.7L926.4 1151.7M790.2 1241.1L822.5 1276.7M790.2 1241.1L819.0 1279.2M790.2 1241.1L815.5 1281.7M790.2 1241.1L811.9 1284.1M776.4 1250.3L808.5 1286.4M776.4 1250.3L806.1 1288.0M776.4 1250.3L803.6 1289.6M776.4 1250.3L801.1 1291.2M776.4 1250.3L798.6 1292.7M776.4 1250.3L796.1 1294.2M677.3 1289.2L693.9 1334.5M677.3 1289.2L692.2 1334.9M677.3 1289.2L690.5 1335.2M677.3 1289.2L688.8 1335.6M616.9 1294.5L620.4 1342.1M616.9 1294.5L617.2 1342.1M616.9 1294.5L614.0 1342.1M569.6 1289.7L567.8 1337.8M569.6 1289.7L565.5 1337.4M569.6 1289.7L563.2 1337.0M569.6 1289.7L560.8 1336.6M569.6 1289.7L558.5 1336.1M497.0 1266.2L481.5 1311.6M497.0 1266.2L478.8 1310.4M497.0 1266.2L476.2 1309.2M497.0 1266.2L473.5 1307.9M443.7 1233.3L421.5 1276.4M443.7 1233.3L418.7 1274.4M443.7 1233.3L416.1 1272.3M443.7 1233.3L413.4 1270.3M443.7 1233.3L410.8 1268.2M410.8 1203.2L382.0 1242.4M410.8 1203.2L378.0 1238.2M410.8 1203.2L374.0 1233.9M410.8 1203.2L370.0 1229.6M336.0 1045.4L290.1 1063.7M336.0 1045.4L289.6 1060.7M336.0 1045.4L289.2 1057.8M336.0 1045.4L288.7 1054.8M336.0 1045.4L288.3 1051.8M336.0 1045.4L288.0 1048.9M336.0 1045.4L287.6 1045.9M336.0 1045.4L287.3 1043.0M336.0 1045.4L287.0 1040.0M336.1 971.3L287.3 973.7M336.1 971.3L287.7 970.6M336.1 971.3L288.1 967.4M336.1 971.3L288.5 964.2M336.1 971.3L288.9 961.0M340.9 944.8L293.1 938.1M340.9 944.8L293.7 935.3M340.9 944.8L294.4 932.4M340.9 944.8L295.1 929.6M340.9 944.8L295.8 926.8M356.5 896.9L308.7 886.9M356.5 896.9L309.6 884.8M356.5 896.9L310.4 882.7M356.5 896.9L311.3 880.6M356.5 896.9L312.2 878.5M356.5 896.9L313.0 876.5M356.5 896.9L314.0 874.4M356.5 896.9L314.9 872.3M356.5 896.9L315.8 870.3M372.0 866.1L327.7 846.9M372.0 866.1L329.4 843.8M372.0 866.1L331.2 840.8M372.0 866.1L333.0 837.8M396.5 830.4L354.0 806.9M396.5 830.4L356.3 803.9M396.5 830.4L358.7 801.0M396.5 830.4L361.1 798.0M396.5 830.4L363.5 795.1M410.6 814.2L371.6 785.8M410.6 814.2L374.4 782.8M410.6 814.2L377.2 779.8M410.6 814.2L380.0 776.9M524.9 739.4L501.5 697.2M524.9 739.4L505.6 695.7M524.9 739.4L509.6 694.2M524.9 739.4L513.7 692.8M695.4 732.1L692.2 682.3M695.4 732.1L694.9 682.9M695.4 732.1L697.7 683.5M695.4 732.1L700.4 684.2M695.4 732.1L703.1 684.8M695.4 732.1L705.9 685.5M695.4 732.1L708.6 686.2M695.4 732.1L711.3 686.9M695.4 732.1L714.0 687.7M695.4 732.1L716.7 688.5M731.2 743.9L737.4 695.2M731.2 743.9L740.0 696.1M731.2 743.9L742.6 697.1M731.2 743.9L745.2 698.1M731.2 743.9L747.8 699.1M731.2 743.9L750.4 700.2M731.2 743.9L752.9 701.2M731.2 743.9L755.5 702.3M731.2 743.9L758.1 703.4" fill="none" stroke="#000" stroke-width="1.45"/>
<path d="M357.9 1123.5L314.8 1144.8" fill="none" stroke="#FF0000" stroke-width="5.2"/>
<path d="M579.0 725.9L552.8 682.2M579.0 725.9L556.2 681.5M579.0 725.9L559.7 680.8M579.0 725.9L563.2 680.2M579.0 725.9L566.6 679.6M579.0 725.9L570.1 679.1M579.0 725.9L573.6 678.5M579.0 725.9L577.1 678.1M579.0 725.9L580.6 677.6M579.0 725.9L584.1 677.2M579.0 725.9L587.6 676.8M579.0 725.9L591.1 676.5M627.7 722.8L604.0 675.5M627.7 722.8L606.5 675.4M627.7 722.8L609.1 675.3M627.7 722.8L611.6 675.2M627.7 722.8L614.2 675.1M627.7 722.8L616.7 675.1M627.7 722.8L619.3 675.1M627.7 722.8L621.8 675.1M627.7 722.8L624.4 675.1M627.7 722.8L626.9 675.1M627.7 722.8L629.4 675.1M627.7 722.8L632.0 675.2M627.7 722.8L634.5 675.3M627.7 722.8L637.1 675.4M627.7 722.8L639.6 675.5M627.7 722.8L642.2 675.6M627.7 722.8L644.7 675.8M627.7 722.8L647.3 676.0M627.7 722.8L649.8 676.2M627.7 722.8L652.3 676.4M627.7 722.8L654.9 676.6M627.7 722.8L657.4 676.9M808.9 790.6L813.4 734.0M808.9 790.6L816.1 735.9M808.9 790.6L818.7 737.7M808.9 790.6L821.3 739.6M808.9 790.6L823.9 741.5M808.9 790.6L826.5 743.5M808.9 790.6L829.1 745.4M808.9 790.6L831.6 747.4M808.9 790.6L834.2 749.4M808.9 790.6L836.7 751.5M808.9 790.6L839.2 753.5M808.9 790.6L841.6 755.6M808.9 790.6L844.1 757.7M808.9 790.6L846.5 759.9M808.9 790.6L848.9 762.0M808.9 790.6L851.3 764.2M808.9 790.6L853.7 766.4M808.9 790.6L856.0 768.6M808.9 790.6L858.4 770.9M808.9 790.6L860.7 773.1M808.9 790.6L862.9 775.4M808.9 790.6L865.2 777.7M808.9 790.6L867.4 780.0M808.9 790.6L869.6 782.4" fill="none" stroke="#000" stroke-width="1.5"/>
<g fill="#C2C208" stroke="#262600" stroke-width="1.05"><circle cx="574.1" cy="1008.6" r="10.55"/><circle cx="670.3" cy="1008.6" r="6.80"/></g>
<circle cx="622.2" cy="1008.6" r="0.75" fill="#777" stroke="#000" stroke-width="0.1"/>
<g fill="#C2C208" stroke="#262600" stroke-width="1.05"><circle cx="799.8" cy="935.4" r="4.50"/><circle cx="844.2" cy="917.0" r="4.50"/><circle cx="888.6" cy="898.7" r="4.50"/><circle cx="933.0" cy="880.4" r="3.55"/><circle cx="802.5" cy="942.0" r="5.90"/><circle cx="847.1" cy="924.3" r="4.50"/><circle cx="892.1" cy="907.4" r="4.50"/><circle cx="937.1" cy="890.6" r="3.55"/><circle cx="849.5" cy="930.6" r="4.50"/><circle cx="894.9" cy="915.0" r="6.80"/><circle cx="940.4" cy="899.5" r="3.55"/><circle cx="806.6" cy="954.3" r="4.95"/><circle cx="851.8" cy="937.6" r="4.50"/><circle cx="897.7" cy="923.4" r="4.50"/><circle cx="943.6" cy="909.2" r="3.55"/><circle cx="853.8" cy="944.5" r="4.50"/><circle cx="900.2" cy="931.7" r="4.50"/><circle cx="946.5" cy="918.9" r="3.55"/><circle cx="948.5" cy="926.2" r="5.62"/><circle cx="949.3" cy="929.4" r="5.31"/><circle cx="950.0" cy="932.6" r="6.19"/><circle cx="950.8" cy="935.8" r="5.18"/><circle cx="951.5" cy="939.1" r="5.99"/><circle cx="952.2" cy="942.3" r="5.69"/><circle cx="952.8" cy="945.5" r="5.15"/><circle cx="907.8" cy="967.3" r="4.05"/><circle cx="955.4" cy="960.4" r="3.55"/><circle cx="813.5" cy="988.0" r="5.45"/><circle cx="861.3" cy="982.9" r="5.45"/><circle cx="909.1" cy="977.7" r="5.45"/><circle cx="956.4" cy="968.0" r="3.81"/><circle cx="956.8" cy="971.2" r="3.11"/><circle cx="957.1" cy="974.5" r="3.70"/><circle cx="957.5" cy="977.8" r="3.15"/><circle cx="766.3" cy="1001.7" r="4.50"/><circle cx="814.4" cy="999.5" r="4.95"/><circle cx="862.4" cy="997.2" r="4.05"/><circle cx="910.5" cy="994.9" r="3.55"/><circle cx="958.5" cy="992.6" r="3.55"/><circle cx="718.4" cy="1007.9" r="6.30"/><circle cx="766.5" cy="1007.6" r="6.30"/><circle cx="814.6" cy="1007.3" r="6.80"/><circle cx="862.7" cy="1006.9" r="6.80"/><circle cx="910.8" cy="1006.6" r="6.80"/><circle cx="958.9" cy="1006.3" r="6.80"/><circle cx="814.5" cy="1015.5" r="6.30"/><circle cx="862.5" cy="1017.2" r="6.80"/><circle cx="910.6" cy="1018.9" r="6.80"/><circle cx="958.7" cy="1020.6" r="4.05"/><circle cx="718.2" cy="1014.3" r="5.30"/><circle cx="766.1" cy="1019.1" r="5.30"/><circle cx="814.1" cy="1022.6" r="4.50"/><circle cx="862.1" cy="1026.0" r="4.50"/><circle cx="910.0" cy="1029.5" r="3.55"/><circle cx="958.0" cy="1033.0" r="4.05"/><circle cx="861.5" cy="1032.5" r="4.05"/><circle cx="909.3" cy="1037.2" r="3.55"/><circle cx="957.2" cy="1042.0" r="4.05"/><circle cx="717.4" cy="1022.5" r="5.80"/><circle cx="765.0" cy="1029.5" r="5.80"/><circle cx="812.5" cy="1036.4" r="6.30"/><circle cx="860.1" cy="1043.4" r="6.30"/><circle cx="908.2" cy="1047.1" r="5.80"/><circle cx="955.8" cy="1053.5" r="5.80"/><circle cx="954.8" cy="1060.2" r="3.71"/><circle cx="954.1" cy="1064.8" r="4.29"/><circle cx="907.1" cy="1054.5" r="5.30"/><circle cx="709.9" cy="1047.8" r="9.05"/><circle cx="755.4" cy="1063.7" r="8.70"/><circle cx="809.6" cy="1051.7" r="6.40"/><circle cx="857.4" cy="1058.5" r="5.90"/><circle cx="904.4" cy="1068.5" r="5.90"/><circle cx="951.4" cy="1078.5" r="4.05"/><circle cx="855.9" cy="1064.8" r="4.95"/><circle cx="902.6" cy="1076.1" r="4.95"/><circle cx="949.4" cy="1087.3" r="4.05"/><circle cx="854.1" cy="1071.9" r="4.95"/><circle cx="900.4" cy="1084.5" r="4.95"/><circle cx="946.8" cy="1097.2" r="4.05"/><circle cx="803.5" cy="1072.3" r="9.20"/><circle cx="852.0" cy="1078.9" r="4.95"/><circle cx="898.0" cy="1092.9" r="4.95"/><circle cx="943.9" cy="1107.0" r="4.05"/><circle cx="849.8" cy="1085.6" r="4.95"/><circle cx="895.3" cy="1101.0" r="4.95"/><circle cx="940.8" cy="1116.4" r="3.55"/><circle cx="846.3" cy="1095.2" r="8.70"/><circle cx="892.3" cy="1109.2" r="7.80"/><circle cx="937.4" cy="1126.0" r="4.05"/><circle cx="889.6" cy="1116.2" r="5.45"/><circle cx="934.2" cy="1134.1" r="4.05"/><circle cx="790.6" cy="1100.8" r="8.30"/><circle cx="839.6" cy="1110.5" r="7.80"/><circle cx="931.2" cy="1141.1" r="5.95"/><circle cx="929.6" cy="1144.6" r="4.55"/><circle cx="928.0" cy="1148.2" r="4.75"/><circle cx="926.4" cy="1151.7" r="5.55"/><circle cx="884.1" cy="1128.7" r="7.80"/><circle cx="879.7" cy="1137.7" r="5.45"/><circle cx="922.6" cy="1159.2" r="4.95"/><circle cx="833.6" cy="1122.3" r="5.90"/><circle cx="875.8" cy="1145.0" r="5.45"/><circle cx="918.1" cy="1167.8" r="3.55"/><circle cx="829.5" cy="1129.4" r="5.45"/><circle cx="872.4" cy="1151.1" r="4.05"/><circle cx="914.1" cy="1174.9" r="3.55"/><circle cx="868.9" cy="1157.0" r="4.05"/><circle cx="910.0" cy="1181.7" r="3.55"/><circle cx="824.2" cy="1137.8" r="4.50"/><circle cx="864.7" cy="1163.7" r="3.55"/><circle cx="905.1" cy="1189.5" r="3.55"/><circle cx="820.5" cy="1143.4" r="7.80"/><circle cx="860.2" cy="1170.3" r="7.80"/><circle cx="899.8" cy="1197.3" r="3.55"/><circle cx="738.2" cy="1093.6" r="5.90"/><circle cx="776.9" cy="1122.0" r="5.45"/><circle cx="815.5" cy="1150.3" r="3.55"/><circle cx="854.2" cy="1178.7" r="3.55"/><circle cx="892.9" cy="1207.0" r="4.05"/><circle cx="688.3" cy="1077.8" r="5.45"/><circle cx="690.9" cy="1075.3" r="4.50"/><circle cx="693.4" cy="1072.7" r="4.05"/><circle cx="695.6" cy="1070.2" r="4.05"/><circle cx="773.0" cy="1127.0" r="4.05"/><circle cx="810.7" cy="1156.6" r="4.05"/><circle cx="848.4" cy="1186.2" r="4.50"/><circle cx="886.1" cy="1215.8" r="4.05"/><circle cx="731.8" cy="1101.5" r="4.05"/><circle cx="768.4" cy="1132.5" r="4.05"/><circle cx="804.9" cy="1163.5" r="3.55"/><circle cx="841.5" cy="1194.5" r="4.05"/><circle cx="878.0" cy="1225.4" r="4.05"/><circle cx="728.0" cy="1105.8" r="4.05"/><circle cx="763.3" cy="1138.2" r="4.05"/><circle cx="798.5" cy="1170.6" r="3.55"/><circle cx="833.8" cy="1203.0" r="3.55"/><circle cx="869.0" cy="1235.4" r="4.05"/><circle cx="723.9" cy="1110.0" r="6.40"/><circle cx="757.8" cy="1143.8" r="6.85"/><circle cx="791.7" cy="1177.7" r="6.85"/><circle cx="825.6" cy="1211.5" r="6.55"/><circle cx="859.5" cy="1245.3" r="5.45"/><circle cx="716.9" cy="1116.5" r="6.40"/><circle cx="748.4" cy="1152.4" r="6.40"/><circle cx="786.1" cy="1183.0" r="6.40"/><circle cx="818.8" cy="1217.9" r="5.55"/><circle cx="851.6" cy="1252.7" r="3.55"/><circle cx="780.2" cy="1188.2" r="5.45"/><circle cx="811.8" cy="1224.1" r="6.40"/><circle cx="843.4" cy="1260.1" r="7.30"/><circle cx="744.1" cy="1156.1" r="3.55"/><circle cx="774.5" cy="1193.0" r="3.55"/><circle cx="805.0" cy="1229.8" r="3.55"/><circle cx="835.5" cy="1266.7" r="3.55"/><circle cx="697.4" cy="1130.6" r="8.70"/><circle cx="726.2" cy="1168.9" r="8.30"/><circle cx="756.7" cy="1206.1" r="8.70"/><circle cx="797.5" cy="1235.7" r="7.30"/><circle cx="826.7" cy="1273.6" r="4.95"/><circle cx="822.5" cy="1276.7" r="5.51"/><circle cx="819.0" cy="1279.2" r="5.23"/><circle cx="815.5" cy="1281.7" r="5.10"/><circle cx="811.9" cy="1284.1" r="5.53"/><circle cx="790.2" cy="1241.1" r="6.80"/><circle cx="808.5" cy="1286.4" r="3.35"/><circle cx="806.1" cy="1288.0" r="4.16"/><circle cx="803.6" cy="1289.6" r="3.59"/><circle cx="801.1" cy="1291.2" r="3.44"/><circle cx="798.6" cy="1292.7" r="3.42"/><circle cx="796.1" cy="1294.2" r="3.61"/><circle cx="776.4" cy="1250.3" r="8.70"/><circle cx="765.4" cy="1256.8" r="5.45"/><circle cx="789.3" cy="1298.2" r="3.77"/><circle cx="757.9" cy="1260.9" r="7.30"/><circle cx="780.5" cy="1303.0" r="3.33"/><circle cx="734.7" cy="1219.2" r="6.80"/><circle cx="746.0" cy="1266.9" r="6.30"/><circle cx="774.0" cy="1306.3" r="5.80"/><circle cx="764.8" cy="1310.8" r="3.55"/><circle cx="723.1" cy="1224.9" r="7.80"/><circle cx="738.2" cy="1270.4" r="7.30"/><circle cx="757.5" cy="1314.0" r="3.65"/><circle cx="693.1" cy="1185.8" r="3.70"/><circle cx="710.9" cy="1230.1" r="3.80"/><circle cx="728.6" cy="1274.4" r="4.50"/><circle cx="746.3" cy="1318.7" r="4.05"/><circle cx="667.4" cy="1193.9" r="7.55"/><circle cx="700.3" cy="1234.0" r="7.30"/><circle cx="719.5" cy="1277.8" r="6.30"/><circle cx="735.7" cy="1322.6" r="3.46"/><circle cx="708.0" cy="1281.6" r="6.55"/><circle cx="729.3" cy="1324.8" r="3.53"/><circle cx="721.5" cy="1327.3" r="3.24"/><circle cx="683.6" cy="1238.9" r="5.20"/><circle cx="699.8" cy="1284.0" r="4.05"/><circle cx="712.7" cy="1329.9" r="3.24"/><circle cx="693.5" cy="1285.6" r="4.50"/><circle cx="705.4" cy="1331.8" r="3.34"/><circle cx="687.1" cy="1287.2" r="4.50"/><circle cx="697.9" cy="1333.6" r="3.68"/><circle cx="661.1" cy="1243.7" r="5.70"/><circle cx="693.9" cy="1334.5" r="3.37"/><circle cx="692.2" cy="1334.9" r="3.29"/><circle cx="690.5" cy="1335.2" r="3.49"/><circle cx="688.8" cy="1335.6" r="3.39"/><circle cx="677.3" cy="1289.2" r="4.50"/><circle cx="673.6" cy="1289.9" r="3.80"/><circle cx="682.1" cy="1336.8" r="3.41"/><circle cx="665.9" cy="1291.2" r="4.05"/><circle cx="673.1" cy="1338.3" r="3.76"/><circle cx="659.2" cy="1292.1" r="4.95"/><circle cx="665.4" cy="1339.4" r="3.69"/><circle cx="652.6" cy="1292.9" r="4.95"/><circle cx="657.7" cy="1340.3" r="3.37"/><circle cx="636.8" cy="1198.7" r="4.70"/><circle cx="640.4" cy="1246.2" r="4.95"/><circle cx="644.1" cy="1293.7" r="5.30"/><circle cx="647.7" cy="1341.2" r="3.55"/><circle cx="635.0" cy="1294.2" r="3.95"/><circle cx="637.2" cy="1341.8" r="3.60"/><circle cx="626.4" cy="1294.5" r="6.85"/><circle cx="627.1" cy="1342.1" r="3.57"/><circle cx="620.4" cy="1342.1" r="3.49"/><circle cx="617.2" cy="1342.1" r="3.41"/><circle cx="614.0" cy="1342.1" r="3.19"/><circle cx="616.9" cy="1294.5" r="3.55"/><circle cx="553.6" cy="1186.7" r="8.70"/><circle cx="609.4" cy="1246.5" r="6.30"/><circle cx="606.8" cy="1294.1" r="3.95"/><circle cx="604.3" cy="1341.7" r="3.55"/><circle cx="564.4" cy="1239.9" r="8.70"/><circle cx="598.8" cy="1293.6" r="3.80"/><circle cx="594.9" cy="1341.1" r="3.89"/><circle cx="591.5" cy="1292.9" r="5.30"/><circle cx="586.4" cy="1340.3" r="3.28"/><circle cx="585.0" cy="1292.1" r="6.05"/><circle cx="578.8" cy="1339.4" r="3.49"/><circle cx="578.5" cy="1291.2" r="7.55"/><circle cx="571.3" cy="1338.3" r="3.73"/><circle cx="567.8" cy="1337.8" r="4.10"/><circle cx="565.5" cy="1337.4" r="4.78"/><circle cx="563.2" cy="1337.0" r="3.88"/><circle cx="560.8" cy="1336.6" r="5.14"/><circle cx="558.5" cy="1336.1" r="5.33"/><circle cx="569.6" cy="1289.7" r="7.55"/><circle cx="559.3" cy="1287.6" r="4.30"/><circle cx="548.9" cy="1334.1" r="3.60"/><circle cx="553.1" cy="1286.2" r="4.30"/><circle cx="541.6" cy="1332.5" r="3.81"/><circle cx="547.5" cy="1284.8" r="5.30"/><circle cx="535.1" cy="1330.8" r="3.42"/><circle cx="541.1" cy="1283.0" r="5.45"/><circle cx="527.5" cy="1328.7" r="3.69"/><circle cx="534.9" cy="1281.1" r="8.55"/><circle cx="520.4" cy="1326.5" r="3.62"/><circle cx="529.0" cy="1279.2" r="5.30"/><circle cx="513.4" cy="1324.3" r="3.61"/><circle cx="523.0" cy="1277.1" r="3.80"/><circle cx="506.5" cy="1321.8" r="3.52"/><circle cx="516.7" cy="1274.7" r="4.30"/><circle cx="499.1" cy="1319.0" r="3.79"/><circle cx="511.5" cy="1272.6" r="3.80"/><circle cx="493.1" cy="1316.6" r="3.86"/><circle cx="495.1" cy="1210.9" r="8.30"/><circle cx="505.3" cy="1270.0" r="4.80"/><circle cx="485.8" cy="1313.5" r="3.53"/><circle cx="481.5" cy="1311.6" r="3.96"/><circle cx="478.8" cy="1310.4" r="3.36"/><circle cx="476.2" cy="1309.2" r="4.00"/><circle cx="473.5" cy="1307.9" r="3.95"/><circle cx="497.0" cy="1266.2" r="4.80"/><circle cx="488.9" cy="1262.2" r="5.30"/><circle cx="466.7" cy="1304.5" r="3.90"/><circle cx="482.7" cy="1258.9" r="7.80"/><circle cx="459.5" cy="1300.6" r="3.78"/><circle cx="477.5" cy="1255.9" r="7.80"/><circle cx="453.3" cy="1297.2" r="3.40"/><circle cx="471.8" cy="1252.6" r="4.30"/><circle cx="446.8" cy="1293.3" r="3.47"/><circle cx="465.7" cy="1248.8" r="6.30"/><circle cx="439.6" cy="1288.8" r="6.30"/><circle cx="456.3" cy="1242.5" r="6.80"/><circle cx="428.6" cy="1281.5" r="6.30"/><circle cx="421.5" cy="1276.4" r="4.72"/><circle cx="418.7" cy="1274.4" r="3.59"/><circle cx="416.1" cy="1272.3" r="4.36"/><circle cx="413.4" cy="1270.3" r="3.84"/><circle cx="410.8" cy="1268.2" r="3.75"/><circle cx="443.7" cy="1233.3" r="7.30"/><circle cx="450.1" cy="1238.1" r="6.30"/><circle cx="421.5" cy="1276.4" r="3.55"/><circle cx="465.4" cy="1189.2" r="4.30"/><circle cx="434.0" cy="1225.4" r="4.30"/><circle cx="402.6" cy="1261.5" r="4.30"/><circle cx="459.7" cy="1184.3" r="4.05"/><circle cx="427.2" cy="1219.4" r="4.05"/><circle cx="394.7" cy="1254.5" r="3.80"/><circle cx="453.9" cy="1178.8" r="5.30"/><circle cx="420.3" cy="1212.9" r="5.30"/><circle cx="386.6" cy="1246.9" r="3.80"/><circle cx="541.1" cy="1059.8" r="9.80"/><circle cx="512.5" cy="1101.4" r="9.80"/><circle cx="481.0" cy="1138.1" r="6.40"/><circle cx="445.7" cy="1170.5" r="6.40"/><circle cx="382.0" cy="1242.4" r="3.65"/><circle cx="378.0" cy="1238.2" r="4.89"/><circle cx="374.0" cy="1233.9" r="3.78"/><circle cx="370.0" cy="1229.6" r="3.98"/><circle cx="410.8" cy="1203.2" r="7.05"/><circle cx="433.9" cy="1047.6" r="9.30"/><circle cx="387.5" cy="1060.6" r="9.30"/><circle cx="403.4" cy="1195.0" r="5.30"/><circle cx="397.3" cy="1187.7" r="6.55"/><circle cx="391.7" cy="1180.7" r="6.30"/><circle cx="386.1" cy="1173.0" r="6.30"/><circle cx="379.1" cy="1162.6" r="6.30"/><circle cx="372.0" cy="1151.1" r="4.30"/><circle cx="366.9" cy="1141.9" r="6.30"/><circle cx="363.5" cy="1135.3" r="4.30"/><circle cx="366.6" cy="1225.7" r="3.43"/><circle cx="360.9" cy="1219.0" r="3.72"/><circle cx="355.8" cy="1212.6" r="3.25"/><circle cx="351.2" cy="1206.5" r="3.47"/><circle cx="347.1" cy="1200.9" r="3.53"/><circle cx="343.1" cy="1195.1" r="3.73"/><circle cx="338.5" cy="1188.3" r="3.69"/><circle cx="334.8" cy="1182.4" r="3.72"/><circle cx="331.2" cy="1176.4" r="3.37"/><circle cx="328.0" cy="1170.8" r="3.45"/><circle cx="324.1" cy="1163.6" r="3.42"/><circle cx="320.1" cy="1155.9" r="3.73"/><circle cx="352.1" cy="1109.2" r="4.05"/><circle cx="349.7" cy="1102.6" r="4.30"/><circle cx="345.9" cy="1091.2" r="6.30"/><circle cx="343.7" cy="1083.6" r="4.30"/><circle cx="341.1" cy="1073.4" r="7.80"/><circle cx="339.5" cy="1066.1" r="3.80"/><circle cx="338.2" cy="1059.2" r="7.30"/><circle cx="311.8" cy="1137.9" r="3.77"/><circle cx="309.1" cy="1131.4" r="3.29"/><circle cx="306.6" cy="1124.9" r="3.31"/><circle cx="304.2" cy="1118.3" r="3.34"/><circle cx="302.0" cy="1111.7" r="3.34"/><circle cx="299.7" cy="1104.4" r="3.49"/><circle cx="297.6" cy="1097.2" r="5.30"/><circle cx="295.5" cy="1089.3" r="5.30"/><circle cx="293.9" cy="1082.5" r="3.55"/><circle cx="292.3" cy="1075.1" r="3.36"/><circle cx="291.0" cy="1068.8" r="3.20"/><circle cx="290.1" cy="1063.7" r="3.82"/><circle cx="289.6" cy="1060.7" r="3.76"/><circle cx="289.2" cy="1057.8" r="4.01"/><circle cx="288.7" cy="1054.8" r="4.49"/><circle cx="288.3" cy="1051.8" r="4.16"/><circle cx="288.0" cy="1048.9" r="3.94"/><circle cx="287.6" cy="1045.9" r="4.07"/><circle cx="287.3" cy="1043.0" r="4.15"/><circle cx="287.0" cy="1040.0" r="3.37"/><circle cx="336.0" cy="1045.4" r="7.80"/><circle cx="334.4" cy="1029.5" r="5.80"/><circle cx="333.9" cy="1022.6" r="3.80"/><circle cx="333.7" cy="1016.1" r="4.30"/><circle cx="333.6" cy="1009.6" r="4.80"/><circle cx="333.7" cy="1003.1" r="7.80"/><circle cx="333.8" cy="997.1" r="4.30"/><circle cx="334.2" cy="990.6" r="3.80"/><circle cx="334.7" cy="984.2" r="5.30"/><circle cx="335.4" cy="976.7" r="8.30"/><circle cx="286.3" cy="1031.9" r="3.74"/><circle cx="285.9" cy="1024.3" r="3.67"/><circle cx="285.6" cy="1017.3" r="3.72"/><circle cx="285.5" cy="1009.8" r="3.68"/><circle cx="285.6" cy="1002.8" r="3.44"/><circle cx="285.8" cy="995.2" r="3.44"/><circle cx="286.1" cy="988.2" r="3.26"/><circle cx="286.7" cy="980.7" r="3.58"/><circle cx="287.3" cy="973.7" r="4.41"/><circle cx="287.7" cy="970.6" r="4.42"/><circle cx="288.1" cy="967.4" r="4.67"/><circle cx="288.5" cy="964.2" r="4.58"/><circle cx="288.9" cy="961.0" r="4.90"/><circle cx="336.1" cy="971.3" r="7.30"/><circle cx="337.5" cy="961.9" r="6.30"/><circle cx="338.9" cy="954.0" r="7.80"/><circle cx="290.0" cy="954.1" r="3.23"/><circle cx="291.6" cy="945.5" r="7.80"/><circle cx="293.1" cy="938.1" r="3.80"/><circle cx="293.7" cy="935.3" r="4.03"/><circle cx="294.4" cy="932.4" r="3.95"/><circle cx="295.1" cy="929.6" r="4.35"/><circle cx="295.8" cy="926.8" r="3.84"/><circle cx="340.9" cy="944.8" r="8.30"/><circle cx="344.0" cy="932.7" r="7.30"/><circle cx="345.9" cy="926.0" r="8.30"/><circle cx="297.7" cy="919.5" r="3.72"/><circle cx="299.7" cy="912.8" r="6.30"/><circle cx="393.9" cy="933.8" r="5.05"/><circle cx="348.2" cy="918.8" r="5.30"/><circle cx="302.5" cy="903.9" r="3.80"/><circle cx="441.6" cy="942.8" r="5.80"/><circle cx="396.5" cy="926.3" r="5.30"/><circle cx="351.4" cy="909.9" r="5.30"/><circle cx="306.2" cy="893.4" r="3.80"/><circle cx="444.8" cy="934.7" r="7.05"/><circle cx="400.5" cy="916.3" r="7.30"/><circle cx="308.7" cy="886.9" r="4.32"/><circle cx="309.6" cy="884.8" r="3.74"/><circle cx="310.4" cy="882.7" r="3.87"/><circle cx="311.3" cy="880.6" r="3.98"/><circle cx="312.2" cy="878.5" r="4.01"/><circle cx="313.0" cy="876.5" r="3.70"/><circle cx="314.0" cy="874.4" r="4.61"/><circle cx="314.9" cy="872.3" r="4.79"/><circle cx="315.8" cy="870.3" r="4.13"/><circle cx="356.5" cy="896.9" r="7.55"/><circle cx="449.6" cy="924.4" r="5.30"/><circle cx="406.4" cy="903.4" r="3.80"/><circle cx="363.3" cy="882.4" r="3.80"/><circle cx="320.1" cy="861.3" r="3.80"/><circle cx="409.9" cy="896.7" r="3.55"/><circle cx="367.4" cy="874.4" r="3.55"/><circle cx="324.9" cy="852.0" r="3.80"/><circle cx="456.1" cy="912.4" r="8.80"/><circle cx="414.6" cy="888.4" r="7.80"/><circle cx="327.7" cy="846.9" r="4.40"/><circle cx="329.4" cy="843.8" r="3.91"/><circle cx="331.2" cy="840.8" r="3.93"/><circle cx="333.0" cy="837.8" r="4.23"/><circle cx="372.0" cy="866.1" r="7.80"/><circle cx="377.1" cy="857.7" r="3.80"/><circle cx="336.2" cy="832.6" r="4.30"/><circle cx="462.7" cy="902.0" r="4.80"/><circle cx="422.8" cy="875.4" r="4.80"/><circle cx="382.9" cy="848.7" r="4.80"/><circle cx="343.1" cy="822.1" r="3.80"/><circle cx="466.5" cy="896.6" r="5.80"/><circle cx="427.6" cy="868.6" r="3.55"/><circle cx="388.7" cy="840.6" r="3.80"/><circle cx="349.8" cy="812.5" r="3.80"/><circle cx="480.6" cy="879.6" r="7.95"/><circle cx="435.3" cy="858.7" r="7.80"/><circle cx="354.0" cy="806.9" r="4.25"/><circle cx="356.3" cy="803.9" r="4.67"/><circle cx="358.7" cy="801.0" r="4.17"/><circle cx="361.1" cy="798.0" r="4.07"/><circle cx="363.5" cy="795.1" r="4.76"/><circle cx="396.5" cy="830.4" r="7.80"/><circle cx="450.4" cy="841.9" r="7.30"/><circle cx="404.9" cy="820.5" r="4.80"/><circle cx="368.7" cy="789.1" r="3.55"/><circle cx="371.6" cy="785.8" r="4.33"/><circle cx="374.4" cy="782.8" r="3.95"/><circle cx="377.2" cy="779.8" r="4.34"/><circle cx="380.0" cy="776.9" r="3.83"/><circle cx="410.6" cy="814.2" r="7.55"/><circle cx="375.2" cy="782.0" r="7.55"/><circle cx="417.8" cy="806.8" r="6.55"/><circle cx="383.7" cy="773.2" r="6.30"/><circle cx="424.3" cy="800.5" r="5.05"/><circle cx="391.3" cy="765.9" r="3.80"/><circle cx="462.5" cy="830.4" r="4.80"/><circle cx="430.6" cy="794.8" r="5.30"/><circle cx="398.7" cy="759.2" r="3.80"/><circle cx="530.0" cy="898.6" r="8.55"/><circle cx="499.3" cy="862.0" r="5.55"/><circle cx="468.6" cy="825.3" r="3.80"/><circle cx="437.9" cy="788.6" r="3.80"/><circle cx="407.1" cy="752.0" r="3.80"/><circle cx="524.0" cy="844.7" r="8.30"/><circle cx="488.4" cy="810.6" r="7.80"/><circle cx="519.4" cy="793.2" r="8.05"/><circle cx="444.5" cy="783.3" r="5.30"/><circle cx="451.3" cy="778.2" r="4.30"/><circle cx="455.4" cy="775.3" r="3.80"/><circle cx="460.8" cy="771.6" r="3.80"/><circle cx="466.7" cy="767.7" r="5.30"/><circle cx="472.7" cy="764.1" r="5.30"/><circle cx="476.6" cy="761.8" r="3.80"/><circle cx="482.3" cy="758.5" r="3.80"/><circle cx="488.0" cy="755.5" r="4.30"/><circle cx="495.2" cy="751.9" r="5.80"/><circle cx="500.7" cy="749.3" r="5.30"/><circle cx="506.7" cy="746.6" r="4.80"/><circle cx="513.2" cy="743.9" r="6.80"/><circle cx="415.4" cy="745.4" r="3.52"/><circle cx="421.0" cy="741.2" r="3.79"/><circle cx="427.6" cy="736.4" r="3.72"/><circle cx="433.9" cy="732.1" r="3.62"/><circle cx="440.3" cy="727.9" r="3.36"/><circle cx="445.8" cy="724.5" r="3.42"/><circle cx="451.8" cy="720.9" r="3.30"/><circle cx="459.0" cy="716.9" r="3.66"/><circle cx="467.3" cy="712.5" r="3.52"/><circle cx="473.5" cy="709.3" r="3.67"/><circle cx="480.4" cy="706.1" r="4.30"/><circle cx="487.4" cy="702.9" r="3.40"/><circle cx="494.4" cy="700.0" r="3.33"/><circle cx="590.6" cy="918.6" r="5.90"/><circle cx="574.9" cy="873.6" r="6.30"/><circle cx="559.1" cy="828.5" r="6.80"/><circle cx="543.3" cy="783.5" r="6.80"/><circle cx="501.5" cy="697.2" r="4.46"/><circle cx="505.6" cy="695.7" r="4.54"/><circle cx="509.6" cy="694.2" r="4.48"/><circle cx="513.7" cy="692.8" r="4.45"/><circle cx="524.9" cy="739.4" r="5.80"/><circle cx="536.1" cy="735.7" r="6.05"/><circle cx="521.8" cy="690.2" r="4.05"/><circle cx="597.3" cy="916.5" r="3.80"/><circle cx="584.9" cy="870.5" r="3.80"/><circle cx="572.4" cy="824.5" r="3.80"/><circle cx="560.0" cy="778.5" r="3.80"/><circle cx="547.5" cy="732.4" r="3.80"/><circle cx="535.1" cy="686.4" r="4.05"/><circle cx="648.7" cy="917.0" r="9.55"/><circle cx="662.5" cy="871.3" r="9.80"/><circle cx="679.4" cy="826.6" r="9.80"/><circle cx="579.6" cy="822.7" r="5.30"/><circle cx="568.9" cy="776.3" r="5.80"/><circle cx="558.3" cy="729.8" r="5.80"/><circle cx="547.6" cy="683.3" r="3.80"/><circle cx="585.4" cy="773.2" r="7.80"/><circle cx="552.8" cy="682.2" r="5.73"/><circle cx="556.2" cy="681.5" r="5.59"/><circle cx="559.7" cy="680.8" r="4.70"/><circle cx="563.2" cy="680.2" r="5.21"/><circle cx="566.6" cy="679.6" r="4.92"/><circle cx="570.1" cy="679.1" r="4.35"/><circle cx="573.6" cy="678.5" r="4.35"/><circle cx="577.1" cy="678.1" r="4.79"/><circle cx="580.6" cy="677.6" r="4.75"/><circle cx="584.1" cy="677.2" r="5.51"/><circle cx="587.6" cy="676.8" r="5.97"/><circle cx="591.1" cy="676.5" r="5.08"/><circle cx="579.0" cy="725.9" r="8.30"/><circle cx="623.9" cy="770.4" r="7.80"/><circle cx="601.8" cy="723.4" r="6.80"/><circle cx="598.4" cy="675.9" r="4.05"/><circle cx="604.0" cy="675.5" r="6.64"/><circle cx="606.5" cy="675.4" r="6.77"/><circle cx="609.1" cy="675.3" r="6.69"/><circle cx="611.6" cy="675.2" r="5.21"/><circle cx="614.2" cy="675.1" r="4.85"/><circle cx="616.7" cy="675.1" r="4.87"/><circle cx="619.3" cy="675.1" r="4.79"/><circle cx="621.8" cy="675.1" r="4.81"/><circle cx="624.4" cy="675.1" r="5.86"/><circle cx="626.9" cy="675.1" r="6.55"/><circle cx="629.4" cy="675.1" r="6.40"/><circle cx="632.0" cy="675.2" r="5.50"/><circle cx="634.5" cy="675.3" r="5.93"/><circle cx="637.1" cy="675.4" r="6.30"/><circle cx="639.6" cy="675.5" r="4.51"/><circle cx="642.2" cy="675.6" r="5.95"/><circle cx="644.7" cy="675.8" r="6.57"/><circle cx="647.3" cy="676.0" r="6.26"/><circle cx="649.8" cy="676.2" r="6.18"/><circle cx="652.3" cy="676.4" r="5.50"/><circle cx="654.9" cy="676.6" r="4.75"/><circle cx="657.4" cy="676.9" r="6.27"/><circle cx="627.7" cy="722.8" r="8.30"/><circle cx="675.9" cy="776.4" r="9.05"/><circle cx="657.4" cy="724.8" r="5.30"/><circle cx="663.2" cy="677.5" r="5.30"/><circle cx="664.1" cy="725.7" r="4.80"/><circle cx="671.1" cy="678.6" r="3.80"/><circle cx="671.8" cy="727.0" r="4.55"/><circle cx="680.1" cy="680.0" r="6.30"/><circle cx="688.2" cy="681.5" r="4.80"/><circle cx="692.2" cy="682.3" r="4.97"/><circle cx="694.9" cy="682.9" r="5.90"/><circle cx="697.7" cy="683.5" r="6.24"/><circle cx="700.4" cy="684.2" r="5.09"/><circle cx="703.1" cy="684.8" r="5.10"/><circle cx="705.9" cy="685.5" r="6.19"/><circle cx="708.6" cy="686.2" r="5.75"/><circle cx="711.3" cy="686.9" r="4.64"/><circle cx="714.0" cy="687.7" r="4.55"/><circle cx="716.7" cy="688.5" r="4.60"/><circle cx="695.4" cy="732.1" r="7.80"/><circle cx="710.4" cy="736.4" r="6.30"/><circle cx="725.1" cy="691.0" r="6.30"/><circle cx="717.6" cy="738.8" r="7.55"/><circle cx="733.5" cy="693.8" r="6.30"/><circle cx="712.3" cy="787.7" r="5.80"/><circle cx="737.4" cy="695.2" r="5.16"/><circle cx="740.0" cy="696.1" r="5.01"/><circle cx="742.6" cy="697.1" r="4.02"/><circle cx="745.2" cy="698.1" r="5.04"/><circle cx="747.8" cy="699.1" r="5.27"/><circle cx="750.4" cy="700.2" r="4.79"/><circle cx="752.9" cy="701.2" r="4.33"/><circle cx="755.5" cy="702.3" r="4.62"/><circle cx="758.1" cy="703.4" r="4.00"/><circle cx="731.2" cy="743.9" r="5.80"/><circle cx="725.7" cy="793.6" r="6.80"/><circle cx="746.4" cy="750.6" r="4.55"/><circle cx="767.2" cy="707.5" r="4.30"/><circle cx="736.6" cy="799.0" r="6.80"/><circle cx="753.7" cy="754.1" r="3.80"/><circle cx="775.6" cy="711.7" r="3.80"/><circle cx="760.4" cy="757.6" r="5.30"/><circle cx="783.4" cy="715.7" r="5.80"/><circle cx="750.4" cy="807.0" r="7.80"/><circle cx="766.5" cy="761.0" r="5.30"/><circle cx="790.6" cy="719.7" r="4.80"/><circle cx="775.3" cy="766.3" r="6.30"/><circle cx="800.9" cy="725.9" r="4.30"/><circle cx="781.3" cy="770.1" r="6.30"/><circle cx="807.8" cy="730.3" r="3.80"/><circle cx="777.4" cy="826.6" r="9.30"/><circle cx="813.4" cy="734.0" r="4.33"/><circle cx="816.1" cy="735.9" r="6.48"/><circle cx="818.7" cy="737.7" r="5.76"/><circle cx="821.3" cy="739.6" r="5.48"/><circle cx="823.9" cy="741.5" r="6.40"/><circle cx="826.5" cy="743.5" r="5.28"/><circle cx="829.1" cy="745.4" r="6.26"/><circle cx="831.6" cy="747.4" r="6.16"/><circle cx="834.2" cy="749.4" r="4.77"/><circle cx="836.7" cy="751.5" r="4.87"/><circle cx="839.2" cy="753.5" r="4.96"/><circle cx="841.6" cy="755.6" r="4.84"/><circle cx="844.1" cy="757.7" r="5.62"/><circle cx="846.5" cy="759.9" r="4.88"/><circle cx="848.9" cy="762.0" r="5.24"/><circle cx="851.3" cy="764.2" r="4.59"/><circle cx="853.7" cy="766.4" r="6.35"/><circle cx="856.0" cy="768.6" r="5.10"/><circle cx="858.4" cy="770.9" r="5.33"/><circle cx="860.7" cy="773.1" r="5.61"/><circle cx="862.9" cy="775.4" r="6.33"/><circle cx="865.2" cy="777.7" r="5.25"/><circle cx="867.4" cy="780.0" r="6.36"/><circle cx="869.6" cy="782.4" r="5.43"/><circle cx="808.9" cy="790.6" r="9.30"/><circle cx="742.2" cy="929.2" r="8.30"/><circle cx="782.2" cy="902.7" r="8.30"/><circle cx="813.8" cy="864.6" r="6.80"/><circle cx="838.7" cy="819.5" r="5.80"/><circle cx="843.6" cy="825.2" r="4.30"/><circle cx="848.7" cy="831.4" r="4.30"/><circle cx="853.6" cy="837.7" r="4.30"/><circle cx="856.9" cy="842.2" r="4.30"/><circle cx="860.3" cy="847.1" r="4.30"/><circle cx="864.0" cy="852.5" r="4.30"/><circle cx="872.8" cy="785.8" r="3.52"/><circle cx="876.7" cy="790.2" r="5.05"/><circle cx="882.0" cy="796.4" r="3.51"/><circle cx="886.4" cy="801.9" r="3.21"/><circle cx="891.1" cy="807.9" r="3.46"/><circle cx="895.6" cy="814.0" r="3.31"/><circle cx="900.0" cy="820.2" r="3.20"/><circle cx="903.9" cy="826.0" r="3.68"/><circle cx="829.6" cy="888.0" r="8.30"/><circle cx="867.7" cy="858.4" r="6.30"/><circle cx="871.6" cy="864.8" r="7.80"/><circle cx="877.5" cy="875.3" r="4.80"/><circle cx="907.7" cy="831.8" r="3.30"/><circle cx="911.4" cy="837.8" r="3.48"/><circle cx="914.7" cy="843.3" r="3.64"/><circle cx="918.7" cy="850.5" r="5.30"/><circle cx="921.4" cy="855.6" r="3.53"/><circle cx="836.9" cy="901.2" r="5.30"/><circle cx="881.7" cy="883.5" r="4.30"/><circle cx="925.0" cy="862.6" r="3.80"/><circle cx="884.6" cy="889.6" r="3.80"/><circle cx="928.3" cy="869.7" r="3.80"/></g>
<circle cx="710.3" cy="970.2" r="8.50" fill="#078507" stroke="#000" stroke-width="2.0"/>
<circle cx="761.7" cy="972.1" r="8.50" fill="#078507" stroke="#000" stroke-width="2.0"/>
<circle cx="811.1" cy="972.2" r="8.50" fill="#078507" stroke="#000" stroke-width="2.0"/>
<circle cx="858.4" cy="963.8" r="8.25" fill="#078507" stroke="#000" stroke-width="2.0"/>
<circle cx="905.1" cy="952.1" r="8.10" fill="#078507" stroke="#000" stroke-width="2.3"/>
<circle cx="953.8" cy="950.7" r="7.60" fill="#078507" stroke="#000" stroke-width="2.3"/>
<circle cx="804.6" cy="1289.0" r="7.20" fill="#FF0000" stroke="#000" stroke-width="1.6"/>
<circle cx="626.0" cy="1246.8" r="7.30" fill="#078507" stroke="#000" stroke-width="2.2"/>
<circle cx="357.9" cy="1123.5" r="7.60" fill="#FF0000" stroke="#000" stroke-width="1.8"/>
<circle cx="314.8" cy="1144.8" r="7.10" fill="#FF0000" stroke="#000" stroke-width="1.8"/>
<circle cx="677.3" cy="728.0" r="6.60" fill="#FF0000" stroke="#000" stroke-width="1.8"/><text x="618.5" y="614.2" text-anchor="middle" font-family="'Liberation Sans','DejaVu Sans',sans-serif" font-size="21.7" fill="#111">Cladogram</text>
<rect x="138.6" y="706.9" width="22.8" height="8.6" fill="#FF0000" stroke="#000" stroke-width="1.8"/>
<rect x="138.6" y="727.0" width="22.8" height="8.6" fill="#008000" stroke="#000" stroke-width="1.8"/>
<text x="170.8" y="714.6" font-family="'Liberation Sans','DejaVu Sans',sans-serif" font-weight="bold" font-size="9.35" fill="#222">Insomnia disorder</text>
<text x="170.8" y="735.4" font-family="'Liberation Sans','DejaVu Sans',sans-serif" font-weight="bold" font-size="9.35" fill="#222">non-insomnia disorder</text>
<rect x="1108.9" y="679.4" width="33.3" height="11.8" fill="#008000" stroke="#000" stroke-width="2"/>
<rect x="1111.2" y="681.7" width="28.7" height="7.2" fill="none" stroke="#7fbf7f" stroke-opacity="0.55" stroke-width="0.7"/>
<text x="1154.4" y="691.1" font-family="'DejaVu Sans','Liberation Sans',sans-serif" font-size="16.17" fill="#111">a: f__Bifidobacteriaceae</text>
<rect x="1108.9" y="703.9" width="33.3" height="11.8" fill="#008000" stroke="#000" stroke-width="2"/>
<rect x="1111.2" y="706.2" width="28.7" height="7.2" fill="none" stroke="#7fbf7f" stroke-opacity="0.55" stroke-width="0.7"/>
<text x="1154.4" y="715.6" font-family="'DejaVu Sans','Liberation Sans',sans-serif" font-size="16.17" fill="#111">b: o__Bifidobacteriales</text>
<rect x="1108.9" y="728.4" width="33.3" height="11.8" fill="#008000" stroke="#000" stroke-width="2"/>
<rect x="1111.2" y="730.7" width="28.7" height="7.2" fill="none" stroke="#7fbf7f" stroke-opacity="0.55" stroke-width="0.7"/>
<text x="1154.4" y="740.1" font-family="'DejaVu Sans','Liberation Sans',sans-serif" font-size="16.17" fill="#111">c: c__Actinobacteria</text>
<rect x="1108.9" y="752.9" width="33.3" height="11.8" fill="#008000" stroke="#000" stroke-width="2"/>
<rect x="1111.2" y="755.2" width="28.7" height="7.2" fill="none" stroke="#7fbf7f" stroke-opacity="0.55" stroke-width="0.7"/>
<text x="1154.4" y="764.6" font-family="'DejaVu Sans','Liberation Sans',sans-serif" font-size="16.17" fill="#111">d: f___Eubacterium__coprostanoligenes_group</text>
<text transform="translate(1031.4 834.0) rotate(66.7)" text-anchor="middle" dominant-baseline="central" font-family="'DejaVu Sans','Liberation Sans',sans-serif" font-size="16" fill="#0a3d0a">p__Actinobacteriota</text>
<text transform="translate(1025.4 911.2) rotate(76.3)" text-anchor="middle" dominant-baseline="central" font-family="'DejaVu Sans','Liberation Sans',sans-serif" font-size="16" fill="#0a3d0a">c</text>
<text transform="translate(999.2 938.7) rotate(79.4)" text-anchor="middle" dominant-baseline="central" font-family="'DejaVu Sans','Liberation Sans',sans-serif" font-size="16" fill="#0a3d0a">b</text>
<text transform="translate(969.0 945.5) rotate(79.6)" text-anchor="middle" dominant-baseline="central" font-family="'DejaVu Sans','Liberation Sans',sans-serif" font-size="16" fill="#0a3d0a">a</text>
<text transform="translate(628.0 1359.2) rotate(179.1)" text-anchor="middle" dominant-baseline="central" font-family="'DejaVu Sans','Liberation Sans',sans-serif" font-size="16" fill="#0a3d0a">d</text></g>
<g id="labels"><text x="5.6" y="30.9" font-family="'Liberation Sans','DejaVu Sans',sans-serif" font-size="37.2">A</text>
<text x="780.9" y="33.3" font-family="'Liberation Sans','DejaVu Sans',sans-serif" font-size="37.2">B</text>
<text x="11.4" y="628.6" font-family="'Liberation Sans','DejaVu Sans',sans-serif" font-size="37.2">C</text></g>
</svg></body></html>
